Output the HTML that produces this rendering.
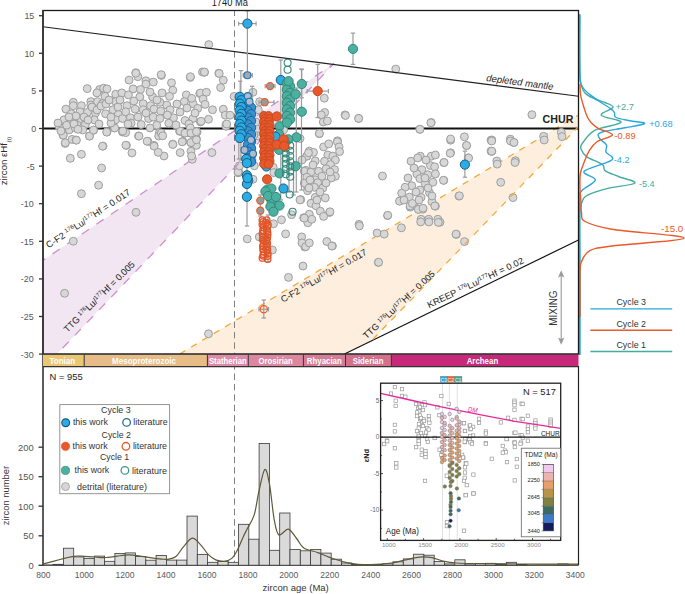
<!DOCTYPE html><html><head><meta charset="utf-8"><style>html,body{margin:0;padding:0;background:#fff;}svg{display:block;}</style></head><body>
<svg width="685" height="594" viewBox="0 0 685 594" font-family='"Liberation Sans", sans-serif'>
<rect width="685" height="594" fill="#fff"/>
<defs><clipPath id="cp"><rect x="43.0" y="10.0" width="535.5" height="344.0"/></clipPath></defs>
<g clip-path="url(#cp)">
<polygon points="43,260.4 334,63.5 57,354 43,354" fill="#f3e6f3"/>
<polygon points="179.7,354 578.9,114.7 578.9,126.1 372.9,339.3 345.3,354" fill="#fdeedd"/>
<line x1="43" y1="260.4" x2="334" y2="63.5" stroke="#cf8fcf" stroke-width="1.3" stroke-dasharray="8.8,8.8" stroke-dashoffset="6"/>
<line x1="179.7" y1="354" x2="578.9" y2="114.7" stroke="#f5a83a" stroke-width="1.3" stroke-dasharray="6.6,6.6"/>
</g>
<line x1="344.5" y1="354" x2="578.5" y2="240" stroke="#111" stroke-width="1.2"/>
<line x1="43" y1="128.5" x2="578.5" y2="128.5" stroke="#111" stroke-width="2.2"/>
<line x1="234.5" y1="10" x2="234.5" y2="565" stroke="#808080" stroke-width="1" stroke-dasharray="6.5,3.9" stroke-dashoffset="0.5"/>
<circle cx="87.2" cy="88.6" r="3.95" fill="#d7d7d7" stroke="#9e9e9e" stroke-width="1.00"/>
<circle cx="99.6" cy="89.5" r="3.95" fill="#d7d7d7" stroke="#9e9e9e" stroke-width="1.00"/>
<circle cx="103.6" cy="88.2" r="3.95" fill="#d7d7d7" stroke="#9e9e9e" stroke-width="1.00"/>
<circle cx="107.0" cy="88.9" r="3.95" fill="#d7d7d7" stroke="#9e9e9e" stroke-width="1.00"/>
<circle cx="96.9" cy="92.9" r="3.95" fill="#d7d7d7" stroke="#9e9e9e" stroke-width="1.00"/>
<circle cx="105.0" cy="96.3" r="3.95" fill="#d7d7d7" stroke="#9e9e9e" stroke-width="1.00"/>
<circle cx="115.7" cy="94.2" r="3.95" fill="#d7d7d7" stroke="#9e9e9e" stroke-width="1.00"/>
<circle cx="121.8" cy="92.9" r="3.95" fill="#d7d7d7" stroke="#9e9e9e" stroke-width="1.00"/>
<circle cx="73.3" cy="102.3" r="3.95" fill="#d7d7d7" stroke="#9e9e9e" stroke-width="1.00"/>
<circle cx="65.9" cy="109.1" r="3.95" fill="#d7d7d7" stroke="#9e9e9e" stroke-width="1.00"/>
<circle cx="73.3" cy="105.7" r="3.95" fill="#d7d7d7" stroke="#9e9e9e" stroke-width="1.00"/>
<circle cx="81.4" cy="105.7" r="3.95" fill="#d7d7d7" stroke="#9e9e9e" stroke-width="1.00"/>
<circle cx="90.8" cy="101.6" r="3.95" fill="#d7d7d7" stroke="#9e9e9e" stroke-width="1.00"/>
<circle cx="90.8" cy="105.0" r="3.95" fill="#d7d7d7" stroke="#9e9e9e" stroke-width="1.00"/>
<circle cx="97.5" cy="101.6" r="3.95" fill="#d7d7d7" stroke="#9e9e9e" stroke-width="1.00"/>
<circle cx="102.3" cy="103.7" r="3.95" fill="#d7d7d7" stroke="#9e9e9e" stroke-width="1.00"/>
<circle cx="115.7" cy="101.6" r="3.95" fill="#d7d7d7" stroke="#9e9e9e" stroke-width="1.00"/>
<circle cx="113.0" cy="109.7" r="3.95" fill="#d7d7d7" stroke="#9e9e9e" stroke-width="1.00"/>
<circle cx="71.3" cy="113.8" r="3.95" fill="#d7d7d7" stroke="#9e9e9e" stroke-width="1.00"/>
<circle cx="80.0" cy="111.8" r="3.95" fill="#d7d7d7" stroke="#9e9e9e" stroke-width="1.00"/>
<circle cx="87.4" cy="112.4" r="3.95" fill="#d7d7d7" stroke="#9e9e9e" stroke-width="1.00"/>
<circle cx="95.5" cy="113.1" r="3.95" fill="#d7d7d7" stroke="#9e9e9e" stroke-width="1.00"/>
<circle cx="105.6" cy="113.8" r="3.95" fill="#d7d7d7" stroke="#9e9e9e" stroke-width="1.00"/>
<circle cx="118.4" cy="114.4" r="3.95" fill="#d7d7d7" stroke="#9e9e9e" stroke-width="1.00"/>
<circle cx="63.9" cy="119.8" r="3.95" fill="#d7d7d7" stroke="#9e9e9e" stroke-width="1.00"/>
<circle cx="70.0" cy="121.9" r="3.95" fill="#d7d7d7" stroke="#9e9e9e" stroke-width="1.00"/>
<circle cx="77.3" cy="122.5" r="3.95" fill="#d7d7d7" stroke="#9e9e9e" stroke-width="1.00"/>
<circle cx="85.4" cy="124.5" r="3.95" fill="#d7d7d7" stroke="#9e9e9e" stroke-width="1.00"/>
<circle cx="94.2" cy="119.8" r="3.95" fill="#d7d7d7" stroke="#9e9e9e" stroke-width="1.00"/>
<circle cx="115.7" cy="119.8" r="3.95" fill="#d7d7d7" stroke="#9e9e9e" stroke-width="1.00"/>
<circle cx="122.5" cy="118.5" r="3.95" fill="#d7d7d7" stroke="#9e9e9e" stroke-width="1.00"/>
<circle cx="59.2" cy="126.6" r="3.95" fill="#d7d7d7" stroke="#9e9e9e" stroke-width="1.00"/>
<circle cx="69.3" cy="129.9" r="3.95" fill="#d7d7d7" stroke="#9e9e9e" stroke-width="1.00"/>
<circle cx="75.3" cy="127.9" r="3.95" fill="#d7d7d7" stroke="#9e9e9e" stroke-width="1.00"/>
<circle cx="82.7" cy="129.9" r="3.95" fill="#d7d7d7" stroke="#9e9e9e" stroke-width="1.00"/>
<circle cx="93.5" cy="130.3" r="3.95" fill="#d7d7d7" stroke="#9e9e9e" stroke-width="1.00"/>
<circle cx="107.0" cy="132.0" r="3.95" fill="#d7d7d7" stroke="#9e9e9e" stroke-width="1.00"/>
<circle cx="114.4" cy="127.9" r="3.95" fill="#d7d7d7" stroke="#9e9e9e" stroke-width="1.00"/>
<circle cx="122.5" cy="132.0" r="3.95" fill="#d7d7d7" stroke="#9e9e9e" stroke-width="1.00"/>
<circle cx="63.2" cy="135.3" r="3.95" fill="#d7d7d7" stroke="#9e9e9e" stroke-width="1.00"/>
<circle cx="72.0" cy="139.4" r="3.95" fill="#d7d7d7" stroke="#9e9e9e" stroke-width="1.00"/>
<circle cx="76.0" cy="140.0" r="3.95" fill="#d7d7d7" stroke="#9e9e9e" stroke-width="1.00"/>
<circle cx="89.5" cy="136.0" r="3.95" fill="#d7d7d7" stroke="#9e9e9e" stroke-width="1.00"/>
<circle cx="65.2" cy="143.4" r="3.95" fill="#d7d7d7" stroke="#9e9e9e" stroke-width="1.00"/>
<circle cx="103.0" cy="146.1" r="3.95" fill="#d7d7d7" stroke="#9e9e9e" stroke-width="1.00"/>
<circle cx="66.6" cy="125.2" r="3.95" fill="#d7d7d7" stroke="#9e9e9e" stroke-width="1.00"/>
<circle cx="74.0" cy="123.9" r="3.95" fill="#d7d7d7" stroke="#9e9e9e" stroke-width="1.00"/>
<circle cx="80.7" cy="118.5" r="3.95" fill="#d7d7d7" stroke="#9e9e9e" stroke-width="1.00"/>
<circle cx="78.0" cy="129.3" r="3.95" fill="#d7d7d7" stroke="#9e9e9e" stroke-width="1.00"/>
<circle cx="135.8" cy="72.7" r="3.95" fill="#d7d7d7" stroke="#9e9e9e" stroke-width="1.00"/>
<circle cx="137.8" cy="76.7" r="3.95" fill="#d7d7d7" stroke="#9e9e9e" stroke-width="1.00"/>
<circle cx="129.1" cy="80.1" r="3.95" fill="#d7d7d7" stroke="#9e9e9e" stroke-width="1.00"/>
<circle cx="145.9" cy="80.8" r="3.95" fill="#d7d7d7" stroke="#9e9e9e" stroke-width="1.00"/>
<circle cx="145.9" cy="84.1" r="3.95" fill="#d7d7d7" stroke="#9e9e9e" stroke-width="1.00"/>
<circle cx="153.3" cy="82.1" r="3.95" fill="#d7d7d7" stroke="#9e9e9e" stroke-width="1.00"/>
<circle cx="161.4" cy="75.4" r="3.95" fill="#d7d7d7" stroke="#9e9e9e" stroke-width="1.00"/>
<circle cx="171.5" cy="82.8" r="3.95" fill="#d7d7d7" stroke="#9e9e9e" stroke-width="1.00"/>
<circle cx="190.3" cy="77.4" r="3.95" fill="#d7d7d7" stroke="#9e9e9e" stroke-width="1.00"/>
<circle cx="202.5" cy="72.0" r="3.95" fill="#d7d7d7" stroke="#9e9e9e" stroke-width="1.00"/>
<circle cx="133.1" cy="88.9" r="3.95" fill="#d7d7d7" stroke="#9e9e9e" stroke-width="1.00"/>
<circle cx="140.5" cy="89.5" r="3.95" fill="#d7d7d7" stroke="#9e9e9e" stroke-width="1.00"/>
<circle cx="128.4" cy="94.9" r="3.95" fill="#d7d7d7" stroke="#9e9e9e" stroke-width="1.00"/>
<circle cx="139.8" cy="96.9" r="3.95" fill="#d7d7d7" stroke="#9e9e9e" stroke-width="1.00"/>
<circle cx="152.6" cy="96.9" r="3.95" fill="#d7d7d7" stroke="#9e9e9e" stroke-width="1.00"/>
<circle cx="162.1" cy="92.9" r="3.95" fill="#d7d7d7" stroke="#9e9e9e" stroke-width="1.00"/>
<circle cx="172.8" cy="90.2" r="3.95" fill="#d7d7d7" stroke="#9e9e9e" stroke-width="1.00"/>
<circle cx="169.5" cy="96.3" r="3.95" fill="#d7d7d7" stroke="#9e9e9e" stroke-width="1.00"/>
<circle cx="186.3" cy="94.9" r="3.95" fill="#d7d7d7" stroke="#9e9e9e" stroke-width="1.00"/>
<circle cx="184.3" cy="101.6" r="3.95" fill="#d7d7d7" stroke="#9e9e9e" stroke-width="1.00"/>
<circle cx="193.0" cy="103.7" r="3.95" fill="#d7d7d7" stroke="#9e9e9e" stroke-width="1.00"/>
<circle cx="199.8" cy="93.6" r="3.95" fill="#d7d7d7" stroke="#9e9e9e" stroke-width="1.00"/>
<circle cx="191.7" cy="98.3" r="3.95" fill="#d7d7d7" stroke="#9e9e9e" stroke-width="1.00"/>
<circle cx="127.0" cy="105.7" r="3.95" fill="#d7d7d7" stroke="#9e9e9e" stroke-width="1.00"/>
<circle cx="133.8" cy="101.0" r="3.95" fill="#d7d7d7" stroke="#9e9e9e" stroke-width="1.00"/>
<circle cx="143.2" cy="103.7" r="3.95" fill="#d7d7d7" stroke="#9e9e9e" stroke-width="1.00"/>
<circle cx="150.6" cy="105.7" r="3.95" fill="#d7d7d7" stroke="#9e9e9e" stroke-width="1.00"/>
<circle cx="160.0" cy="102.3" r="3.95" fill="#d7d7d7" stroke="#9e9e9e" stroke-width="1.00"/>
<circle cx="166.8" cy="105.0" r="3.95" fill="#d7d7d7" stroke="#9e9e9e" stroke-width="1.00"/>
<circle cx="135.1" cy="109.1" r="3.95" fill="#d7d7d7" stroke="#9e9e9e" stroke-width="1.00"/>
<circle cx="143.2" cy="109.7" r="3.95" fill="#d7d7d7" stroke="#9e9e9e" stroke-width="1.00"/>
<circle cx="154.0" cy="109.1" r="3.95" fill="#d7d7d7" stroke="#9e9e9e" stroke-width="1.00"/>
<circle cx="160.7" cy="111.1" r="3.95" fill="#d7d7d7" stroke="#9e9e9e" stroke-width="1.00"/>
<circle cx="170.1" cy="109.7" r="3.95" fill="#d7d7d7" stroke="#9e9e9e" stroke-width="1.00"/>
<circle cx="125.7" cy="111.8" r="3.95" fill="#d7d7d7" stroke="#9e9e9e" stroke-width="1.00"/>
<circle cx="197.7" cy="108.4" r="3.95" fill="#d7d7d7" stroke="#9e9e9e" stroke-width="1.00"/>
<circle cx="130.4" cy="117.8" r="3.95" fill="#d7d7d7" stroke="#9e9e9e" stroke-width="1.00"/>
<circle cx="148.6" cy="118.5" r="3.95" fill="#d7d7d7" stroke="#9e9e9e" stroke-width="1.00"/>
<circle cx="153.3" cy="117.1" r="3.95" fill="#d7d7d7" stroke="#9e9e9e" stroke-width="1.00"/>
<circle cx="160.0" cy="118.5" r="3.95" fill="#d7d7d7" stroke="#9e9e9e" stroke-width="1.00"/>
<circle cx="173.5" cy="117.8" r="3.95" fill="#d7d7d7" stroke="#9e9e9e" stroke-width="1.00"/>
<circle cx="167.4" cy="115.1" r="3.95" fill="#d7d7d7" stroke="#9e9e9e" stroke-width="1.00"/>
<circle cx="185.0" cy="120.5" r="3.95" fill="#d7d7d7" stroke="#9e9e9e" stroke-width="1.00"/>
<circle cx="193.0" cy="118.5" r="3.95" fill="#d7d7d7" stroke="#9e9e9e" stroke-width="1.00"/>
<circle cx="200.4" cy="121.9" r="3.95" fill="#d7d7d7" stroke="#9e9e9e" stroke-width="1.00"/>
<circle cx="131.1" cy="123.2" r="3.95" fill="#d7d7d7" stroke="#9e9e9e" stroke-width="1.00"/>
<circle cx="141.2" cy="124.5" r="3.95" fill="#d7d7d7" stroke="#9e9e9e" stroke-width="1.00"/>
<circle cx="156.7" cy="125.2" r="3.95" fill="#d7d7d7" stroke="#9e9e9e" stroke-width="1.00"/>
<circle cx="168.8" cy="123.2" r="3.95" fill="#d7d7d7" stroke="#9e9e9e" stroke-width="1.00"/>
<circle cx="189.0" cy="123.9" r="3.95" fill="#d7d7d7" stroke="#9e9e9e" stroke-width="1.00"/>
<circle cx="125.7" cy="132.6" r="3.95" fill="#d7d7d7" stroke="#9e9e9e" stroke-width="1.00"/>
<circle cx="138.5" cy="136.0" r="3.95" fill="#d7d7d7" stroke="#9e9e9e" stroke-width="1.00"/>
<circle cx="159.4" cy="132.6" r="3.95" fill="#d7d7d7" stroke="#9e9e9e" stroke-width="1.00"/>
<circle cx="158.7" cy="136.0" r="3.95" fill="#d7d7d7" stroke="#9e9e9e" stroke-width="1.00"/>
<circle cx="179.6" cy="131.3" r="3.95" fill="#d7d7d7" stroke="#9e9e9e" stroke-width="1.00"/>
<circle cx="184.3" cy="133.3" r="3.95" fill="#d7d7d7" stroke="#9e9e9e" stroke-width="1.00"/>
<circle cx="191.0" cy="133.3" r="3.95" fill="#d7d7d7" stroke="#9e9e9e" stroke-width="1.00"/>
<circle cx="197.1" cy="132.0" r="3.95" fill="#d7d7d7" stroke="#9e9e9e" stroke-width="1.00"/>
<circle cx="147.9" cy="141.4" r="3.95" fill="#d7d7d7" stroke="#9e9e9e" stroke-width="1.00"/>
<circle cx="154.0" cy="145.4" r="3.95" fill="#d7d7d7" stroke="#9e9e9e" stroke-width="1.00"/>
<circle cx="172.8" cy="144.1" r="3.95" fill="#d7d7d7" stroke="#9e9e9e" stroke-width="1.00"/>
<circle cx="182.9" cy="141.4" r="3.95" fill="#d7d7d7" stroke="#9e9e9e" stroke-width="1.00"/>
<circle cx="191.0" cy="142.7" r="3.95" fill="#d7d7d7" stroke="#9e9e9e" stroke-width="1.00"/>
<circle cx="126.4" cy="145.4" r="3.95" fill="#d7d7d7" stroke="#9e9e9e" stroke-width="1.00"/>
<circle cx="196.4" cy="138.7" r="3.95" fill="#d7d7d7" stroke="#9e9e9e" stroke-width="1.00"/>
<circle cx="196.4" cy="145.4" r="3.95" fill="#d7d7d7" stroke="#9e9e9e" stroke-width="1.00"/>
<circle cx="190.3" cy="127.9" r="3.95" fill="#d7d7d7" stroke="#9e9e9e" stroke-width="1.00"/>
<circle cx="208.8" cy="44.6" r="3.95" fill="#d7d7d7" stroke="#9e9e9e" stroke-width="1.00"/>
<circle cx="135.8" cy="73.2" r="3.95" fill="#d7d7d7" stroke="#9e9e9e" stroke-width="1.00"/>
<circle cx="161.2" cy="74.7" r="3.95" fill="#d7d7d7" stroke="#9e9e9e" stroke-width="1.00"/>
<circle cx="204.5" cy="72.3" r="3.95" fill="#d7d7d7" stroke="#9e9e9e" stroke-width="1.00"/>
<circle cx="218.8" cy="73.2" r="3.95" fill="#d7d7d7" stroke="#9e9e9e" stroke-width="1.00"/>
<circle cx="190.4" cy="76.7" r="3.95" fill="#d7d7d7" stroke="#9e9e9e" stroke-width="1.00"/>
<circle cx="204.4" cy="72.1" r="3.95" fill="#d7d7d7" stroke="#9e9e9e" stroke-width="1.00"/>
<circle cx="219.2" cy="73.5" r="3.95" fill="#d7d7d7" stroke="#9e9e9e" stroke-width="1.00"/>
<circle cx="223.3" cy="80.2" r="3.95" fill="#d7d7d7" stroke="#9e9e9e" stroke-width="1.00"/>
<circle cx="220.6" cy="87.6" r="3.95" fill="#d7d7d7" stroke="#9e9e9e" stroke-width="1.00"/>
<circle cx="200.4" cy="93.0" r="3.95" fill="#d7d7d7" stroke="#9e9e9e" stroke-width="1.00"/>
<circle cx="206.4" cy="92.3" r="3.95" fill="#d7d7d7" stroke="#9e9e9e" stroke-width="1.00"/>
<circle cx="203.1" cy="99.1" r="3.95" fill="#d7d7d7" stroke="#9e9e9e" stroke-width="1.00"/>
<circle cx="205.1" cy="104.4" r="3.95" fill="#d7d7d7" stroke="#9e9e9e" stroke-width="1.00"/>
<circle cx="212.5" cy="109.8" r="3.95" fill="#d7d7d7" stroke="#9e9e9e" stroke-width="1.00"/>
<circle cx="223.3" cy="109.2" r="3.95" fill="#d7d7d7" stroke="#9e9e9e" stroke-width="1.00"/>
<circle cx="225.3" cy="115.2" r="3.95" fill="#d7d7d7" stroke="#9e9e9e" stroke-width="1.00"/>
<circle cx="230.0" cy="115.2" r="3.95" fill="#d7d7d7" stroke="#9e9e9e" stroke-width="1.00"/>
<circle cx="208.5" cy="119.3" r="3.95" fill="#d7d7d7" stroke="#9e9e9e" stroke-width="1.00"/>
<circle cx="201.1" cy="121.3" r="3.95" fill="#d7d7d7" stroke="#9e9e9e" stroke-width="1.00"/>
<circle cx="226.0" cy="124.6" r="3.95" fill="#d7d7d7" stroke="#9e9e9e" stroke-width="1.00"/>
<circle cx="234.1" cy="96.4" r="3.95" fill="#d7d7d7" stroke="#9e9e9e" stroke-width="1.00"/>
<circle cx="252.9" cy="92.3" r="3.95" fill="#d7d7d7" stroke="#9e9e9e" stroke-width="1.00"/>
<circle cx="259.6" cy="101.8" r="3.95" fill="#d7d7d7" stroke="#9e9e9e" stroke-width="1.00"/>
<circle cx="258.3" cy="109.8" r="3.95" fill="#d7d7d7" stroke="#9e9e9e" stroke-width="1.00"/>
<circle cx="257.0" cy="128.7" r="3.95" fill="#d7d7d7" stroke="#9e9e9e" stroke-width="1.00"/>
<circle cx="306.8" cy="156.2" r="3.95" fill="#d7d7d7" stroke="#9e9e9e" stroke-width="1.00"/>
<circle cx="305.8" cy="170.3" r="3.95" fill="#d7d7d7" stroke="#9e9e9e" stroke-width="1.00"/>
<circle cx="304.8" cy="183.4" r="3.95" fill="#d7d7d7" stroke="#9e9e9e" stroke-width="1.00"/>
<circle cx="307.8" cy="188.5" r="3.95" fill="#d7d7d7" stroke="#9e9e9e" stroke-width="1.00"/>
<circle cx="300.7" cy="199.6" r="3.95" fill="#d7d7d7" stroke="#9e9e9e" stroke-width="1.00"/>
<circle cx="291.6" cy="214.7" r="3.95" fill="#d7d7d7" stroke="#9e9e9e" stroke-width="1.00"/>
<circle cx="281.5" cy="219.8" r="3.95" fill="#d7d7d7" stroke="#9e9e9e" stroke-width="1.00"/>
<circle cx="273.5" cy="223.8" r="3.95" fill="#d7d7d7" stroke="#9e9e9e" stroke-width="1.00"/>
<circle cx="285.6" cy="233.9" r="3.95" fill="#d7d7d7" stroke="#9e9e9e" stroke-width="1.00"/>
<circle cx="303.7" cy="217.7" r="3.95" fill="#d7d7d7" stroke="#9e9e9e" stroke-width="1.00"/>
<circle cx="301.7" cy="236.9" r="3.95" fill="#d7d7d7" stroke="#9e9e9e" stroke-width="1.00"/>
<circle cx="304.8" cy="247.0" r="3.95" fill="#d7d7d7" stroke="#9e9e9e" stroke-width="1.00"/>
<circle cx="247.2" cy="238.9" r="3.95" fill="#d7d7d7" stroke="#9e9e9e" stroke-width="1.00"/>
<circle cx="259.3" cy="236.9" r="3.95" fill="#d7d7d7" stroke="#9e9e9e" stroke-width="1.00"/>
<circle cx="272.4" cy="250.0" r="3.95" fill="#d7d7d7" stroke="#9e9e9e" stroke-width="1.00"/>
<circle cx="239.1" cy="172.3" r="3.95" fill="#d7d7d7" stroke="#9e9e9e" stroke-width="1.00"/>
<circle cx="307.8" cy="222.8" r="3.95" fill="#d7d7d7" stroke="#9e9e9e" stroke-width="1.00"/>
<circle cx="324.3" cy="98.2" r="3.95" fill="#d7d7d7" stroke="#9e9e9e" stroke-width="1.00"/>
<circle cx="324.7" cy="112.5" r="3.95" fill="#d7d7d7" stroke="#9e9e9e" stroke-width="1.00"/>
<circle cx="321.3" cy="114.9" r="3.95" fill="#d7d7d7" stroke="#9e9e9e" stroke-width="1.00"/>
<circle cx="323.3" cy="122.0" r="3.95" fill="#d7d7d7" stroke="#9e9e9e" stroke-width="1.00"/>
<circle cx="327.4" cy="121.0" r="3.95" fill="#d7d7d7" stroke="#9e9e9e" stroke-width="1.00"/>
<circle cx="345.0" cy="114.9" r="3.95" fill="#d7d7d7" stroke="#9e9e9e" stroke-width="1.00"/>
<circle cx="358.7" cy="118.4" r="3.95" fill="#d7d7d7" stroke="#9e9e9e" stroke-width="1.00"/>
<circle cx="319.3" cy="133.7" r="3.95" fill="#d7d7d7" stroke="#9e9e9e" stroke-width="1.00"/>
<circle cx="337.5" cy="140.8" r="3.95" fill="#d7d7d7" stroke="#9e9e9e" stroke-width="1.00"/>
<circle cx="319.4" cy="133.4" r="3.95" fill="#d7d7d7" stroke="#9e9e9e" stroke-width="1.00"/>
<circle cx="300.0" cy="138.5" r="3.95" fill="#d7d7d7" stroke="#9e9e9e" stroke-width="1.00"/>
<circle cx="323.6" cy="146.9" r="3.95" fill="#d7d7d7" stroke="#9e9e9e" stroke-width="1.00"/>
<circle cx="328.7" cy="143.9" r="3.95" fill="#d7d7d7" stroke="#9e9e9e" stroke-width="1.00"/>
<circle cx="337.4" cy="141.8" r="3.95" fill="#d7d7d7" stroke="#9e9e9e" stroke-width="1.00"/>
<circle cx="339.1" cy="146.9" r="3.95" fill="#d7d7d7" stroke="#9e9e9e" stroke-width="1.00"/>
<circle cx="339.6" cy="151.6" r="3.95" fill="#d7d7d7" stroke="#9e9e9e" stroke-width="1.00"/>
<circle cx="309.3" cy="151.1" r="3.95" fill="#d7d7d7" stroke="#9e9e9e" stroke-width="1.00"/>
<circle cx="313.5" cy="152.4" r="3.95" fill="#d7d7d7" stroke="#9e9e9e" stroke-width="1.00"/>
<circle cx="306.8" cy="156.1" r="3.95" fill="#d7d7d7" stroke="#9e9e9e" stroke-width="1.00"/>
<circle cx="327.8" cy="155.0" r="3.95" fill="#d7d7d7" stroke="#9e9e9e" stroke-width="1.00"/>
<circle cx="332.9" cy="156.1" r="3.95" fill="#d7d7d7" stroke="#9e9e9e" stroke-width="1.00"/>
<circle cx="335.4" cy="160.0" r="3.95" fill="#d7d7d7" stroke="#9e9e9e" stroke-width="1.00"/>
<circle cx="315.2" cy="160.9" r="3.95" fill="#d7d7d7" stroke="#9e9e9e" stroke-width="1.00"/>
<circle cx="324.5" cy="161.2" r="3.95" fill="#d7d7d7" stroke="#9e9e9e" stroke-width="1.00"/>
<circle cx="330.4" cy="164.6" r="3.95" fill="#d7d7d7" stroke="#9e9e9e" stroke-width="1.00"/>
<circle cx="304.3" cy="171.3" r="3.95" fill="#d7d7d7" stroke="#9e9e9e" stroke-width="1.00"/>
<circle cx="311.0" cy="172.1" r="3.95" fill="#d7d7d7" stroke="#9e9e9e" stroke-width="1.00"/>
<circle cx="318.6" cy="171.3" r="3.95" fill="#d7d7d7" stroke="#9e9e9e" stroke-width="1.00"/>
<circle cx="326.1" cy="168.8" r="3.95" fill="#d7d7d7" stroke="#9e9e9e" stroke-width="1.00"/>
<circle cx="334.6" cy="169.6" r="3.95" fill="#d7d7d7" stroke="#9e9e9e" stroke-width="1.00"/>
<circle cx="306.8" cy="177.2" r="3.95" fill="#d7d7d7" stroke="#9e9e9e" stroke-width="1.00"/>
<circle cx="321.9" cy="176.3" r="3.95" fill="#d7d7d7" stroke="#9e9e9e" stroke-width="1.00"/>
<circle cx="335.4" cy="176.3" r="3.95" fill="#d7d7d7" stroke="#9e9e9e" stroke-width="1.00"/>
<circle cx="331.2" cy="178.0" r="3.95" fill="#d7d7d7" stroke="#9e9e9e" stroke-width="1.00"/>
<circle cx="315.2" cy="179.7" r="3.95" fill="#d7d7d7" stroke="#9e9e9e" stroke-width="1.00"/>
<circle cx="304.3" cy="183.1" r="3.95" fill="#d7d7d7" stroke="#9e9e9e" stroke-width="1.00"/>
<circle cx="317.7" cy="182.7" r="3.95" fill="#d7d7d7" stroke="#9e9e9e" stroke-width="1.00"/>
<circle cx="322.8" cy="188.1" r="3.95" fill="#d7d7d7" stroke="#9e9e9e" stroke-width="1.00"/>
<circle cx="307.6" cy="190.7" r="3.95" fill="#d7d7d7" stroke="#9e9e9e" stroke-width="1.00"/>
<circle cx="314.4" cy="187.3" r="3.95" fill="#d7d7d7" stroke="#9e9e9e" stroke-width="1.00"/>
<circle cx="300.0" cy="199.9" r="3.95" fill="#d7d7d7" stroke="#9e9e9e" stroke-width="1.00"/>
<circle cx="315.2" cy="197.4" r="3.95" fill="#d7d7d7" stroke="#9e9e9e" stroke-width="1.00"/>
<circle cx="325.3" cy="197.9" r="3.95" fill="#d7d7d7" stroke="#9e9e9e" stroke-width="1.00"/>
<circle cx="311.0" cy="203.3" r="3.95" fill="#d7d7d7" stroke="#9e9e9e" stroke-width="1.00"/>
<circle cx="316.0" cy="205.8" r="3.95" fill="#d7d7d7" stroke="#9e9e9e" stroke-width="1.00"/>
<circle cx="320.3" cy="211.2" r="3.95" fill="#d7d7d7" stroke="#9e9e9e" stroke-width="1.00"/>
<circle cx="329.5" cy="212.5" r="3.95" fill="#d7d7d7" stroke="#9e9e9e" stroke-width="1.00"/>
<circle cx="323.6" cy="216.4" r="3.95" fill="#d7d7d7" stroke="#9e9e9e" stroke-width="1.00"/>
<circle cx="309.3" cy="214.2" r="3.95" fill="#d7d7d7" stroke="#9e9e9e" stroke-width="1.00"/>
<circle cx="304.3" cy="218.1" r="3.95" fill="#d7d7d7" stroke="#9e9e9e" stroke-width="1.00"/>
<circle cx="311.8" cy="219.3" r="3.95" fill="#d7d7d7" stroke="#9e9e9e" stroke-width="1.00"/>
<circle cx="382.5" cy="176.0" r="3.95" fill="#d7d7d7" stroke="#9e9e9e" stroke-width="1.00"/>
<circle cx="387.6" cy="215.6" r="3.95" fill="#d7d7d7" stroke="#9e9e9e" stroke-width="1.00"/>
<circle cx="359.0" cy="224.3" r="3.95" fill="#d7d7d7" stroke="#9e9e9e" stroke-width="1.00"/>
<circle cx="431.2" cy="122.5" r="3.95" fill="#d7d7d7" stroke="#9e9e9e" stroke-width="1.00"/>
<circle cx="419.9" cy="129.3" r="3.95" fill="#d7d7d7" stroke="#9e9e9e" stroke-width="1.00"/>
<circle cx="450.6" cy="140.2" r="3.95" fill="#d7d7d7" stroke="#9e9e9e" stroke-width="1.00"/>
<circle cx="464.4" cy="136.8" r="3.95" fill="#d7d7d7" stroke="#9e9e9e" stroke-width="1.00"/>
<circle cx="466.5" cy="145.6" r="3.95" fill="#d7d7d7" stroke="#9e9e9e" stroke-width="1.00"/>
<circle cx="491.0" cy="140.2" r="3.95" fill="#d7d7d7" stroke="#9e9e9e" stroke-width="1.00"/>
<circle cx="491.0" cy="151.1" r="3.95" fill="#d7d7d7" stroke="#9e9e9e" stroke-width="1.00"/>
<circle cx="450.6" cy="152.8" r="3.95" fill="#d7d7d7" stroke="#9e9e9e" stroke-width="1.00"/>
<circle cx="468.2" cy="157.9" r="3.95" fill="#d7d7d7" stroke="#9e9e9e" stroke-width="1.00"/>
<circle cx="411.0" cy="161.2" r="3.95" fill="#d7d7d7" stroke="#9e9e9e" stroke-width="1.00"/>
<circle cx="420.3" cy="156.2" r="3.95" fill="#d7d7d7" stroke="#9e9e9e" stroke-width="1.00"/>
<circle cx="417.7" cy="157.9" r="3.95" fill="#d7d7d7" stroke="#9e9e9e" stroke-width="1.00"/>
<circle cx="431.2" cy="156.2" r="3.95" fill="#d7d7d7" stroke="#9e9e9e" stroke-width="1.00"/>
<circle cx="435.4" cy="155.0" r="3.95" fill="#d7d7d7" stroke="#9e9e9e" stroke-width="1.00"/>
<circle cx="443.8" cy="162.6" r="3.95" fill="#d7d7d7" stroke="#9e9e9e" stroke-width="1.00"/>
<circle cx="430.4" cy="165.5" r="3.95" fill="#d7d7d7" stroke="#9e9e9e" stroke-width="1.00"/>
<circle cx="434.6" cy="166.8" r="3.95" fill="#d7d7d7" stroke="#9e9e9e" stroke-width="1.00"/>
<circle cx="421.9" cy="169.7" r="3.95" fill="#d7d7d7" stroke="#9e9e9e" stroke-width="1.00"/>
<circle cx="416.9" cy="173.9" r="3.95" fill="#d7d7d7" stroke="#9e9e9e" stroke-width="1.00"/>
<circle cx="427.8" cy="174.7" r="3.95" fill="#d7d7d7" stroke="#9e9e9e" stroke-width="1.00"/>
<circle cx="435.4" cy="173.9" r="3.95" fill="#d7d7d7" stroke="#9e9e9e" stroke-width="1.00"/>
<circle cx="419.9" cy="178.6" r="3.95" fill="#d7d7d7" stroke="#9e9e9e" stroke-width="1.00"/>
<circle cx="432.9" cy="182.3" r="3.95" fill="#d7d7d7" stroke="#9e9e9e" stroke-width="1.00"/>
<circle cx="425.3" cy="183.6" r="3.95" fill="#d7d7d7" stroke="#9e9e9e" stroke-width="1.00"/>
<circle cx="443.8" cy="180.3" r="3.95" fill="#d7d7d7" stroke="#9e9e9e" stroke-width="1.00"/>
<circle cx="411.8" cy="185.7" r="3.95" fill="#d7d7d7" stroke="#9e9e9e" stroke-width="1.00"/>
<circle cx="405.1" cy="187.3" r="3.95" fill="#d7d7d7" stroke="#9e9e9e" stroke-width="1.00"/>
<circle cx="401.7" cy="193.2" r="3.95" fill="#d7d7d7" stroke="#9e9e9e" stroke-width="1.00"/>
<circle cx="409.3" cy="197.1" r="3.95" fill="#d7d7d7" stroke="#9e9e9e" stroke-width="1.00"/>
<circle cx="421.1" cy="197.4" r="3.95" fill="#d7d7d7" stroke="#9e9e9e" stroke-width="1.00"/>
<circle cx="429.5" cy="192.7" r="3.95" fill="#d7d7d7" stroke="#9e9e9e" stroke-width="1.00"/>
<circle cx="400.0" cy="200.8" r="3.95" fill="#d7d7d7" stroke="#9e9e9e" stroke-width="1.00"/>
<circle cx="413.5" cy="205.0" r="3.95" fill="#d7d7d7" stroke="#9e9e9e" stroke-width="1.00"/>
<circle cx="410.2" cy="207.2" r="3.95" fill="#d7d7d7" stroke="#9e9e9e" stroke-width="1.00"/>
<circle cx="432.0" cy="201.6" r="3.95" fill="#d7d7d7" stroke="#9e9e9e" stroke-width="1.00"/>
<circle cx="435.4" cy="206.2" r="3.95" fill="#d7d7d7" stroke="#9e9e9e" stroke-width="1.00"/>
<circle cx="418.6" cy="209.2" r="3.95" fill="#d7d7d7" stroke="#9e9e9e" stroke-width="1.00"/>
<circle cx="422.8" cy="209.2" r="3.95" fill="#d7d7d7" stroke="#9e9e9e" stroke-width="1.00"/>
<circle cx="459.0" cy="196.1" r="3.95" fill="#d7d7d7" stroke="#9e9e9e" stroke-width="1.00"/>
<circle cx="421.1" cy="219.3" r="3.95" fill="#d7d7d7" stroke="#9e9e9e" stroke-width="1.00"/>
<circle cx="428.7" cy="219.3" r="3.95" fill="#d7d7d7" stroke="#9e9e9e" stroke-width="1.00"/>
<circle cx="437.9" cy="219.3" r="3.95" fill="#d7d7d7" stroke="#9e9e9e" stroke-width="1.00"/>
<circle cx="531.9" cy="114.7" r="3.95" fill="#d7d7d7" stroke="#9e9e9e" stroke-width="1.00"/>
<circle cx="491.8" cy="140.0" r="3.95" fill="#d7d7d7" stroke="#9e9e9e" stroke-width="1.00"/>
<circle cx="510.3" cy="139.1" r="3.95" fill="#d7d7d7" stroke="#9e9e9e" stroke-width="1.00"/>
<circle cx="513.7" cy="142.5" r="3.95" fill="#d7d7d7" stroke="#9e9e9e" stroke-width="1.00"/>
<circle cx="543.6" cy="136.3" r="3.95" fill="#d7d7d7" stroke="#9e9e9e" stroke-width="1.00"/>
<circle cx="561.3" cy="132.4" r="3.95" fill="#d7d7d7" stroke="#9e9e9e" stroke-width="1.00"/>
<circle cx="562.0" cy="136.6" r="3.95" fill="#d7d7d7" stroke="#9e9e9e" stroke-width="1.00"/>
<circle cx="491.8" cy="151.4" r="3.95" fill="#d7d7d7" stroke="#9e9e9e" stroke-width="1.00"/>
<circle cx="496.8" cy="161.0" r="3.95" fill="#d7d7d7" stroke="#9e9e9e" stroke-width="1.00"/>
<circle cx="515.4" cy="160.7" r="3.95" fill="#d7d7d7" stroke="#9e9e9e" stroke-width="1.00"/>
<circle cx="395.8" cy="69.1" r="3.95" fill="#d7d7d7" stroke="#9e9e9e" stroke-width="1.00"/>
<circle cx="345.5" cy="115.5" r="3.95" fill="#d7d7d7" stroke="#9e9e9e" stroke-width="1.00"/>
<circle cx="358.6" cy="118.4" r="3.95" fill="#d7d7d7" stroke="#9e9e9e" stroke-width="1.00"/>
<circle cx="430.9" cy="122.8" r="3.95" fill="#d7d7d7" stroke="#9e9e9e" stroke-width="1.00"/>
<circle cx="419.9" cy="129.3" r="3.95" fill="#d7d7d7" stroke="#9e9e9e" stroke-width="1.00"/>
<circle cx="450.6" cy="139.0" r="3.95" fill="#d7d7d7" stroke="#9e9e9e" stroke-width="1.00"/>
<circle cx="450.2" cy="153.3" r="3.95" fill="#d7d7d7" stroke="#9e9e9e" stroke-width="1.00"/>
<circle cx="444.1" cy="162.5" r="3.95" fill="#d7d7d7" stroke="#9e9e9e" stroke-width="1.00"/>
<circle cx="466.6" cy="145.5" r="3.95" fill="#d7d7d7" stroke="#9e9e9e" stroke-width="1.00"/>
<circle cx="468.6" cy="158.0" r="3.95" fill="#d7d7d7" stroke="#9e9e9e" stroke-width="1.00"/>
<circle cx="491.7" cy="141.0" r="3.95" fill="#d7d7d7" stroke="#9e9e9e" stroke-width="1.00"/>
<circle cx="491.7" cy="151.2" r="3.95" fill="#d7d7d7" stroke="#9e9e9e" stroke-width="1.00"/>
<circle cx="510.5" cy="141.0" r="3.95" fill="#d7d7d7" stroke="#9e9e9e" stroke-width="1.00"/>
<circle cx="514.0" cy="142.5" r="3.95" fill="#d7d7d7" stroke="#9e9e9e" stroke-width="1.00"/>
<circle cx="497.2" cy="164.1" r="3.95" fill="#d7d7d7" stroke="#9e9e9e" stroke-width="1.00"/>
<circle cx="515.0" cy="162.5" r="3.95" fill="#d7d7d7" stroke="#9e9e9e" stroke-width="1.00"/>
<circle cx="443.5" cy="180.3" r="3.95" fill="#d7d7d7" stroke="#9e9e9e" stroke-width="1.00"/>
<circle cx="500.7" cy="182.3" r="3.95" fill="#d7d7d7" stroke="#9e9e9e" stroke-width="1.00"/>
<circle cx="459.4" cy="195.8" r="3.95" fill="#d7d7d7" stroke="#9e9e9e" stroke-width="1.00"/>
<circle cx="513.0" cy="197.6" r="3.95" fill="#d7d7d7" stroke="#9e9e9e" stroke-width="1.00"/>
<circle cx="440.0" cy="222.2" r="3.95" fill="#d7d7d7" stroke="#9e9e9e" stroke-width="1.00"/>
<circle cx="456.3" cy="234.4" r="3.95" fill="#d7d7d7" stroke="#9e9e9e" stroke-width="1.00"/>
<circle cx="464.5" cy="241.6" r="3.95" fill="#d7d7d7" stroke="#9e9e9e" stroke-width="1.00"/>
<circle cx="544.2" cy="140.0" r="3.95" fill="#d7d7d7" stroke="#9e9e9e" stroke-width="1.00"/>
<circle cx="330.0" cy="211.8" r="3.95" fill="#d7d7d7" stroke="#9e9e9e" stroke-width="1.00"/>
<circle cx="387.7" cy="215.3" r="3.95" fill="#d7d7d7" stroke="#9e9e9e" stroke-width="1.00"/>
<circle cx="359.4" cy="225.9" r="3.95" fill="#d7d7d7" stroke="#9e9e9e" stroke-width="1.00"/>
<circle cx="377.1" cy="233.0" r="3.95" fill="#d7d7d7" stroke="#9e9e9e" stroke-width="1.00"/>
<circle cx="384.2" cy="234.1" r="3.95" fill="#d7d7d7" stroke="#9e9e9e" stroke-width="1.00"/>
<circle cx="401.4" cy="227.8" r="3.95" fill="#d7d7d7" stroke="#9e9e9e" stroke-width="1.00"/>
<circle cx="420.7" cy="221.9" r="3.95" fill="#d7d7d7" stroke="#9e9e9e" stroke-width="1.00"/>
<circle cx="428.9" cy="221.9" r="3.95" fill="#d7d7d7" stroke="#9e9e9e" stroke-width="1.00"/>
<circle cx="438.3" cy="222.4" r="3.95" fill="#d7d7d7" stroke="#9e9e9e" stroke-width="1.00"/>
<circle cx="456.0" cy="234.1" r="3.95" fill="#d7d7d7" stroke="#9e9e9e" stroke-width="1.00"/>
<circle cx="378.3" cy="262.4" r="3.95" fill="#d7d7d7" stroke="#9e9e9e" stroke-width="1.00"/>
<circle cx="332.4" cy="245.9" r="3.95" fill="#d7d7d7" stroke="#9e9e9e" stroke-width="1.00"/>
<circle cx="399.5" cy="201.2" r="3.95" fill="#d7d7d7" stroke="#9e9e9e" stroke-width="1.00"/>
<circle cx="410.1" cy="205.9" r="3.95" fill="#d7d7d7" stroke="#9e9e9e" stroke-width="1.00"/>
<circle cx="418.3" cy="209.4" r="3.95" fill="#d7d7d7" stroke="#9e9e9e" stroke-width="1.00"/>
<circle cx="423.0" cy="208.2" r="3.95" fill="#d7d7d7" stroke="#9e9e9e" stroke-width="1.00"/>
<circle cx="434.8" cy="205.9" r="3.95" fill="#d7d7d7" stroke="#9e9e9e" stroke-width="1.00"/>
<circle cx="412.4" cy="203.5" r="3.95" fill="#d7d7d7" stroke="#9e9e9e" stroke-width="1.00"/>
<circle cx="161.3" cy="133.1" r="3.95" fill="#d7d7d7" stroke="#9e9e9e" stroke-width="1.00"/>
<circle cx="162.7" cy="135.8" r="3.95" fill="#d7d7d7" stroke="#9e9e9e" stroke-width="1.00"/>
<circle cx="172.8" cy="144.5" r="3.95" fill="#d7d7d7" stroke="#9e9e9e" stroke-width="1.00"/>
<circle cx="180.2" cy="131.1" r="3.95" fill="#d7d7d7" stroke="#9e9e9e" stroke-width="1.00"/>
<circle cx="184.9" cy="133.1" r="3.95" fill="#d7d7d7" stroke="#9e9e9e" stroke-width="1.00"/>
<circle cx="191.0" cy="133.1" r="3.95" fill="#d7d7d7" stroke="#9e9e9e" stroke-width="1.00"/>
<circle cx="196.4" cy="131.7" r="3.95" fill="#d7d7d7" stroke="#9e9e9e" stroke-width="1.00"/>
<circle cx="182.2" cy="141.8" r="3.95" fill="#d7d7d7" stroke="#9e9e9e" stroke-width="1.00"/>
<circle cx="191.0" cy="142.5" r="3.95" fill="#d7d7d7" stroke="#9e9e9e" stroke-width="1.00"/>
<circle cx="196.4" cy="139.8" r="3.95" fill="#d7d7d7" stroke="#9e9e9e" stroke-width="1.00"/>
<circle cx="180.2" cy="152.6" r="3.95" fill="#d7d7d7" stroke="#9e9e9e" stroke-width="1.00"/>
<circle cx="191.0" cy="151.3" r="3.95" fill="#d7d7d7" stroke="#9e9e9e" stroke-width="1.00"/>
<circle cx="192.3" cy="159.3" r="3.95" fill="#d7d7d7" stroke="#9e9e9e" stroke-width="1.00"/>
<circle cx="191.6" cy="156.0" r="3.95" fill="#d7d7d7" stroke="#9e9e9e" stroke-width="1.00"/>
<circle cx="164.0" cy="156.0" r="3.95" fill="#d7d7d7" stroke="#9e9e9e" stroke-width="1.00"/>
<circle cx="211.9" cy="152.6" r="3.95" fill="#d7d7d7" stroke="#9e9e9e" stroke-width="1.00"/>
<circle cx="238.1" cy="172.8" r="3.95" fill="#d7d7d7" stroke="#9e9e9e" stroke-width="1.00"/>
<circle cx="226.0" cy="126.3" r="3.95" fill="#d7d7d7" stroke="#9e9e9e" stroke-width="1.00"/>
<circle cx="63.2" cy="135.1" r="3.95" fill="#d7d7d7" stroke="#9e9e9e" stroke-width="1.00"/>
<circle cx="65.3" cy="142.8" r="3.95" fill="#d7d7d7" stroke="#9e9e9e" stroke-width="1.00"/>
<circle cx="76.4" cy="140.2" r="3.95" fill="#d7d7d7" stroke="#9e9e9e" stroke-width="1.00"/>
<circle cx="70.3" cy="158.3" r="3.95" fill="#d7d7d7" stroke="#9e9e9e" stroke-width="1.00"/>
<circle cx="81.4" cy="154.3" r="3.95" fill="#d7d7d7" stroke="#9e9e9e" stroke-width="1.00"/>
<circle cx="89.5" cy="136.1" r="3.95" fill="#d7d7d7" stroke="#9e9e9e" stroke-width="1.00"/>
<circle cx="102.6" cy="146.2" r="3.95" fill="#d7d7d7" stroke="#9e9e9e" stroke-width="1.00"/>
<circle cx="101.6" cy="168.0" r="3.95" fill="#d7d7d7" stroke="#9e9e9e" stroke-width="1.00"/>
<circle cx="98.6" cy="185.2" r="3.95" fill="#d7d7d7" stroke="#9e9e9e" stroke-width="1.00"/>
<circle cx="81.4" cy="193.7" r="3.95" fill="#d7d7d7" stroke="#9e9e9e" stroke-width="1.00"/>
<circle cx="125.9" cy="145.2" r="3.95" fill="#d7d7d7" stroke="#9e9e9e" stroke-width="1.00"/>
<circle cx="131.9" cy="152.9" r="3.95" fill="#d7d7d7" stroke="#9e9e9e" stroke-width="1.00"/>
<circle cx="139.0" cy="136.1" r="3.95" fill="#d7d7d7" stroke="#9e9e9e" stroke-width="1.00"/>
<circle cx="147.1" cy="141.2" r="3.95" fill="#d7d7d7" stroke="#9e9e9e" stroke-width="1.00"/>
<circle cx="154.1" cy="146.2" r="3.95" fill="#d7d7d7" stroke="#9e9e9e" stroke-width="1.00"/>
<circle cx="158.2" cy="152.3" r="3.95" fill="#d7d7d7" stroke="#9e9e9e" stroke-width="1.00"/>
<circle cx="136.0" cy="212.3" r="3.95" fill="#d7d7d7" stroke="#9e9e9e" stroke-width="1.00"/>
<circle cx="73.3" cy="241.2" r="3.95" fill="#d7d7d7" stroke="#9e9e9e" stroke-width="1.00"/>
<circle cx="64.6" cy="293.3" r="3.95" fill="#d7d7d7" stroke="#9e9e9e" stroke-width="1.00"/>
<circle cx="106.7" cy="132.1" r="3.95" fill="#d7d7d7" stroke="#9e9e9e" stroke-width="1.00"/>
<circle cx="122.8" cy="131.1" r="3.95" fill="#d7d7d7" stroke="#9e9e9e" stroke-width="1.00"/>
<circle cx="93.5" cy="130.1" r="3.95" fill="#d7d7d7" stroke="#9e9e9e" stroke-width="1.00"/>
<circle cx="114.7" cy="128.0" r="3.95" fill="#d7d7d7" stroke="#9e9e9e" stroke-width="1.00"/>
<circle cx="238.1" cy="171.9" r="3.95" fill="#d7d7d7" stroke="#9e9e9e" stroke-width="1.00"/>
<circle cx="239.5" cy="165.8" r="3.95" fill="#d7d7d7" stroke="#9e9e9e" stroke-width="1.00"/>
<circle cx="254.3" cy="165.8" r="3.95" fill="#d7d7d7" stroke="#9e9e9e" stroke-width="1.00"/>
<circle cx="253.0" cy="179.3" r="3.95" fill="#d7d7d7" stroke="#9e9e9e" stroke-width="1.00"/>
<circle cx="273.2" cy="167.2" r="3.95" fill="#d7d7d7" stroke="#9e9e9e" stroke-width="1.00"/>
<circle cx="273.8" cy="172.6" r="3.95" fill="#d7d7d7" stroke="#9e9e9e" stroke-width="1.00"/>
<circle cx="258.3" cy="136.2" r="3.95" fill="#d7d7d7" stroke="#9e9e9e" stroke-width="1.00"/>
<circle cx="226.7" cy="124.0" r="3.95" fill="#d7d7d7" stroke="#9e9e9e" stroke-width="1.00"/>
<circle cx="283.6" cy="129.9" r="3.95" fill="#d7d7d7" stroke="#9e9e9e" stroke-width="1.00"/>
<circle cx="308.5" cy="152.8" r="3.95" fill="#d7d7d7" stroke="#9e9e9e" stroke-width="1.00"/>
<circle cx="208.5" cy="333.8" r="3.95" fill="#d7d7d7" stroke="#9e9e9e" stroke-width="1.00"/>
<circle cx="288.5" cy="277.4" r="3.95" fill="#d7d7d7" stroke="#9e9e9e" stroke-width="1.00"/>
<circle cx="302.0" cy="242.9" r="3.95" fill="#d7d7d7" stroke="#9e9e9e" stroke-width="1.00"/>
<circle cx="305.7" cy="246.6" r="3.95" fill="#d7d7d7" stroke="#9e9e9e" stroke-width="1.00"/>
<circle cx="309.3" cy="242.9" r="3.95" fill="#d7d7d7" stroke="#9e9e9e" stroke-width="1.00"/>
<circle cx="326.8" cy="241.5" r="3.95" fill="#d7d7d7" stroke="#9e9e9e" stroke-width="1.00"/>
<circle cx="331.9" cy="246.1" r="3.95" fill="#d7d7d7" stroke="#9e9e9e" stroke-width="1.00"/>
<circle cx="303.0" cy="266.0" r="3.95" fill="#d7d7d7" stroke="#9e9e9e" stroke-width="1.00"/>
<circle cx="378.6" cy="262.3" r="3.95" fill="#d7d7d7" stroke="#9e9e9e" stroke-width="1.00"/>
<circle cx="92.0" cy="107.0" r="3.95" fill="#d7d7d7" stroke="#9e9e9e" stroke-width="1.00"/>
<circle cx="97.0" cy="110.0" r="3.95" fill="#d7d7d7" stroke="#9e9e9e" stroke-width="1.00"/>
<circle cx="84.0" cy="117.0" r="3.95" fill="#d7d7d7" stroke="#9e9e9e" stroke-width="1.00"/>
<circle cx="88.0" cy="120.0" r="3.95" fill="#d7d7d7" stroke="#9e9e9e" stroke-width="1.00"/>
<circle cx="101.0" cy="106.0" r="3.95" fill="#d7d7d7" stroke="#9e9e9e" stroke-width="1.00"/>
<circle cx="106.0" cy="104.0" r="3.95" fill="#d7d7d7" stroke="#9e9e9e" stroke-width="1.00"/>
<circle cx="76.0" cy="116.0" r="3.95" fill="#d7d7d7" stroke="#9e9e9e" stroke-width="1.00"/>
<circle cx="69.0" cy="117.0" r="3.95" fill="#d7d7d7" stroke="#9e9e9e" stroke-width="1.00"/>
<circle cx="58.0" cy="123.0" r="3.95" fill="#d7d7d7" stroke="#9e9e9e" stroke-width="1.00"/>
<circle cx="61.0" cy="131.0" r="3.95" fill="#d7d7d7" stroke="#9e9e9e" stroke-width="1.00"/>
<circle cx="99.0" cy="124.0" r="3.95" fill="#d7d7d7" stroke="#9e9e9e" stroke-width="1.00"/>
<circle cx="111.0" cy="123.0" r="3.95" fill="#d7d7d7" stroke="#9e9e9e" stroke-width="1.00"/>
<circle cx="111.0" cy="117.0" r="3.95" fill="#d7d7d7" stroke="#9e9e9e" stroke-width="1.00"/>
<circle cx="118.0" cy="107.0" r="3.95" fill="#d7d7d7" stroke="#9e9e9e" stroke-width="1.00"/>
<circle cx="109.0" cy="100.0" r="3.95" fill="#d7d7d7" stroke="#9e9e9e" stroke-width="1.00"/>
<circle cx="150.0" cy="92.0" r="3.95" fill="#d7d7d7" stroke="#9e9e9e" stroke-width="1.00"/>
<circle cx="157.0" cy="100.0" r="3.95" fill="#d7d7d7" stroke="#9e9e9e" stroke-width="1.00"/>
<circle cx="177.0" cy="104.0" r="3.95" fill="#d7d7d7" stroke="#9e9e9e" stroke-width="1.00"/>
<circle cx="180.0" cy="112.0" r="3.95" fill="#d7d7d7" stroke="#9e9e9e" stroke-width="1.00"/>
<circle cx="146.0" cy="113.0" r="3.95" fill="#d7d7d7" stroke="#9e9e9e" stroke-width="1.00"/>
<circle cx="138.0" cy="117.0" r="3.95" fill="#d7d7d7" stroke="#9e9e9e" stroke-width="1.00"/>
<circle cx="176.0" cy="125.0" r="3.95" fill="#d7d7d7" stroke="#9e9e9e" stroke-width="1.00"/>
<circle cx="150.0" cy="128.0" r="3.95" fill="#d7d7d7" stroke="#9e9e9e" stroke-width="1.00"/>
<circle cx="120.0" cy="100.0" r="3.95" fill="#d7d7d7" stroke="#9e9e9e" stroke-width="1.00"/>
<circle cx="128.0" cy="124.0" r="3.95" fill="#d7d7d7" stroke="#9e9e9e" stroke-width="1.00"/>
<circle cx="195.0" cy="113.0" r="3.95" fill="#d7d7d7" stroke="#9e9e9e" stroke-width="1.00"/>
<circle cx="187.0" cy="108.0" r="3.95" fill="#d7d7d7" stroke="#9e9e9e" stroke-width="1.00"/>
<circle cx="310.0" cy="180.0" r="3.95" fill="#d7d7d7" stroke="#9e9e9e" stroke-width="1.00"/>
<circle cx="313.0" cy="165.0" r="3.95" fill="#d7d7d7" stroke="#9e9e9e" stroke-width="1.00"/>
<circle cx="320.0" cy="192.0" r="3.95" fill="#d7d7d7" stroke="#9e9e9e" stroke-width="1.00"/>
<circle cx="326.0" cy="183.0" r="3.95" fill="#d7d7d7" stroke="#9e9e9e" stroke-width="1.00"/>
<circle cx="317.0" cy="200.0" r="3.95" fill="#d7d7d7" stroke="#9e9e9e" stroke-width="1.00"/>
<circle cx="309.0" cy="188.0" r="3.95" fill="#d7d7d7" stroke="#9e9e9e" stroke-width="1.00"/>
<circle cx="302.0" cy="160.0" r="3.95" fill="#d7d7d7" stroke="#9e9e9e" stroke-width="1.00"/>
<circle cx="330.0" cy="172.0" r="3.95" fill="#d7d7d7" stroke="#9e9e9e" stroke-width="1.00"/>
<circle cx="420.0" cy="190.0" r="3.95" fill="#d7d7d7" stroke="#9e9e9e" stroke-width="1.00"/>
<circle cx="425.0" cy="178.0" r="3.95" fill="#d7d7d7" stroke="#9e9e9e" stroke-width="1.00"/>
<circle cx="416.0" cy="192.0" r="3.95" fill="#d7d7d7" stroke="#9e9e9e" stroke-width="1.00"/>
<circle cx="428.0" cy="188.0" r="3.95" fill="#d7d7d7" stroke="#9e9e9e" stroke-width="1.00"/>
<circle cx="408.0" cy="178.0" r="3.95" fill="#d7d7d7" stroke="#9e9e9e" stroke-width="1.00"/>
<circle cx="414.0" cy="168.0" r="3.95" fill="#d7d7d7" stroke="#9e9e9e" stroke-width="1.00"/>
<circle cx="426.0" cy="160.0" r="3.95" fill="#d7d7d7" stroke="#9e9e9e" stroke-width="1.00"/>
<circle cx="432.0" cy="196.0" r="3.95" fill="#d7d7d7" stroke="#9e9e9e" stroke-width="1.00"/>
<circle cx="404.0" cy="200.0" r="3.95" fill="#d7d7d7" stroke="#9e9e9e" stroke-width="1.00"/>
<circle cx="419.0" cy="200.0" r="3.95" fill="#d7d7d7" stroke="#9e9e9e" stroke-width="1.00"/>
<g clip-path="url(#cp)"><line x1="57" y1="354" x2="334" y2="63.5" stroke="#cf8fcf" stroke-width="1.3" stroke-dasharray="8.8,8.8" stroke-dashoffset="9.4"/><line x1="372.9" y1="339.3" x2="578.9" y2="126.1" stroke="#f5a83a" stroke-width="1.3" stroke-dasharray="6.6,6.6"/></g>
<line x1="43" y1="26.7" x2="578.5" y2="96.3" stroke="#222" stroke-width="1.1"/>
<line x1="247.4" y1="11.0" x2="247.4" y2="75.0" stroke="#9c9c9c" stroke-width="1.2"/><line x1="245.2" y1="11.0" x2="249.6" y2="11.0" stroke="#9c9c9c" stroke-width="1.2"/><line x1="245.2" y1="75.0" x2="249.6" y2="75.0" stroke="#9c9c9c" stroke-width="1.2"/>
<line x1="238.6" y1="23.6" x2="256.1" y2="23.6" stroke="#9c9c9c" stroke-width="1.2"/><line x1="238.6" y1="21.4" x2="238.6" y2="25.8" stroke="#9c9c9c" stroke-width="1.2"/><line x1="256.1" y1="21.4" x2="256.1" y2="25.8" stroke="#9c9c9c" stroke-width="1.2"/>
<line x1="243.2" y1="75.2" x2="252.3" y2="75.2" stroke="#9c9c9c" stroke-width="1.2"/><line x1="243.2" y1="73.0" x2="243.2" y2="77.4" stroke="#9c9c9c" stroke-width="1.2"/><line x1="252.3" y1="73.0" x2="252.3" y2="77.4" stroke="#9c9c9c" stroke-width="1.2"/>
<line x1="240.9" y1="70.6" x2="240.9" y2="160.0" stroke="#9c9c9c" stroke-width="1.2"/><line x1="238.7" y1="70.6" x2="243.1" y2="70.6" stroke="#9c9c9c" stroke-width="1.2"/><line x1="238.7" y1="160.0" x2="243.1" y2="160.0" stroke="#9c9c9c" stroke-width="1.2"/>
<line x1="240.2" y1="81.2" x2="240.2" y2="140.0" stroke="#9c9c9c" stroke-width="1.2"/><line x1="238.0" y1="81.2" x2="242.4" y2="81.2" stroke="#9c9c9c" stroke-width="1.2"/><line x1="238.0" y1="140.0" x2="242.4" y2="140.0" stroke="#9c9c9c" stroke-width="1.2"/>
<line x1="252.2" y1="86.3" x2="252.2" y2="150.0" stroke="#9c9c9c" stroke-width="1.2"/><line x1="250.0" y1="86.3" x2="254.4" y2="86.3" stroke="#9c9c9c" stroke-width="1.2"/><line x1="250.0" y1="150.0" x2="254.4" y2="150.0" stroke="#9c9c9c" stroke-width="1.2"/>
<line x1="265.2" y1="86.1" x2="275.0" y2="86.1" stroke="#9c9c9c" stroke-width="1.2"/><line x1="265.2" y1="83.9" x2="265.2" y2="88.3" stroke="#9c9c9c" stroke-width="1.2"/><line x1="275.0" y1="83.9" x2="275.0" y2="88.3" stroke="#9c9c9c" stroke-width="1.2"/>
<line x1="259.0" y1="102.3" x2="274.0" y2="102.3" stroke="#9c9c9c" stroke-width="1.2"/><line x1="259.0" y1="100.1" x2="259.0" y2="104.5" stroke="#9c9c9c" stroke-width="1.2"/><line x1="274.0" y1="100.1" x2="274.0" y2="104.5" stroke="#9c9c9c" stroke-width="1.2"/>
<line x1="280.8" y1="60.0" x2="280.8" y2="200.0" stroke="#9c9c9c" stroke-width="1.2"/><line x1="278.6" y1="60.0" x2="283.0" y2="60.0" stroke="#9c9c9c" stroke-width="1.2"/><line x1="278.6" y1="200.0" x2="283.0" y2="200.0" stroke="#9c9c9c" stroke-width="1.2"/>
<line x1="301.5" y1="69.0" x2="301.5" y2="190.0" stroke="#9c9c9c" stroke-width="1.2"/><line x1="299.3" y1="69.0" x2="303.7" y2="69.0" stroke="#9c9c9c" stroke-width="1.2"/><line x1="299.3" y1="190.0" x2="303.7" y2="190.0" stroke="#9c9c9c" stroke-width="1.2"/>
<line x1="282.9" y1="79.0" x2="282.9" y2="170.0" stroke="#9c9c9c" stroke-width="1.2"/><line x1="280.7" y1="79.0" x2="285.1" y2="79.0" stroke="#9c9c9c" stroke-width="1.2"/><line x1="280.7" y1="170.0" x2="285.1" y2="170.0" stroke="#9c9c9c" stroke-width="1.2"/>
<line x1="296.3" y1="88.0" x2="296.3" y2="192.0" stroke="#9c9c9c" stroke-width="1.2"/><line x1="294.1" y1="88.0" x2="298.5" y2="88.0" stroke="#9c9c9c" stroke-width="1.2"/><line x1="294.1" y1="192.0" x2="298.5" y2="192.0" stroke="#9c9c9c" stroke-width="1.2"/>
<line x1="353.0" y1="33.1" x2="353.0" y2="64.4" stroke="#9c9c9c" stroke-width="1.2"/><line x1="350.8" y1="33.1" x2="355.2" y2="33.1" stroke="#9c9c9c" stroke-width="1.2"/><line x1="350.8" y1="64.4" x2="355.2" y2="64.4" stroke="#9c9c9c" stroke-width="1.2"/>
<line x1="317.7" y1="64.4" x2="317.7" y2="117.6" stroke="#9c9c9c" stroke-width="1.2"/><line x1="315.5" y1="64.4" x2="319.9" y2="64.4" stroke="#9c9c9c" stroke-width="1.2"/><line x1="315.5" y1="117.6" x2="319.9" y2="117.6" stroke="#9c9c9c" stroke-width="1.2"/>
<line x1="307.2" y1="91.1" x2="328.4" y2="91.1" stroke="#9c9c9c" stroke-width="1.2"/><line x1="307.2" y1="88.9" x2="307.2" y2="93.3" stroke="#9c9c9c" stroke-width="1.2"/><line x1="328.4" y1="88.9" x2="328.4" y2="93.3" stroke="#9c9c9c" stroke-width="1.2"/>
<line x1="301.7" y1="69.5" x2="301.7" y2="97.8" stroke="#9c9c9c" stroke-width="1.2"/><line x1="299.5" y1="69.5" x2="303.9" y2="69.5" stroke="#9c9c9c" stroke-width="1.2"/><line x1="299.5" y1="97.8" x2="303.9" y2="97.8" stroke="#9c9c9c" stroke-width="1.2"/>
<line x1="464.9" y1="151.1" x2="464.9" y2="177.2" stroke="#9c9c9c" stroke-width="1.2"/><line x1="462.7" y1="151.1" x2="467.1" y2="151.1" stroke="#9c9c9c" stroke-width="1.2"/><line x1="462.7" y1="177.2" x2="467.1" y2="177.2" stroke="#9c9c9c" stroke-width="1.2"/>
<line x1="238.8" y1="142.0" x2="238.8" y2="159.0" stroke="#9c9c9c" stroke-width="1.2"/><line x1="236.6" y1="142.0" x2="241.0" y2="142.0" stroke="#9c9c9c" stroke-width="1.2"/><line x1="236.6" y1="159.0" x2="241.0" y2="159.0" stroke="#9c9c9c" stroke-width="1.2"/>
<line x1="247.0" y1="160.0" x2="247.0" y2="226.0" stroke="#9c9c9c" stroke-width="1.2"/><line x1="244.8" y1="160.0" x2="249.2" y2="160.0" stroke="#9c9c9c" stroke-width="1.2"/><line x1="244.8" y1="226.0" x2="249.2" y2="226.0" stroke="#9c9c9c" stroke-width="1.2"/>
<line x1="260.3" y1="195.0" x2="260.3" y2="216.0" stroke="#9c9c9c" stroke-width="1.2"/><line x1="258.1" y1="195.0" x2="262.5" y2="195.0" stroke="#9c9c9c" stroke-width="1.2"/><line x1="258.1" y1="216.0" x2="262.5" y2="216.0" stroke="#9c9c9c" stroke-width="1.2"/>
<line x1="263.8" y1="300.0" x2="263.8" y2="318.0" stroke="#9c9c9c" stroke-width="1.2"/><line x1="261.6" y1="300.0" x2="266.0" y2="300.0" stroke="#9c9c9c" stroke-width="1.2"/><line x1="261.6" y1="318.0" x2="266.0" y2="318.0" stroke="#9c9c9c" stroke-width="1.2"/>
<line x1="259.0" y1="309.2" x2="268.5" y2="309.2" stroke="#9c9c9c" stroke-width="1.2"/><line x1="259.0" y1="307.0" x2="259.0" y2="311.4" stroke="#9c9c9c" stroke-width="1.2"/><line x1="268.5" y1="307.0" x2="268.5" y2="311.4" stroke="#9c9c9c" stroke-width="1.2"/>
<line x1="268.0" y1="215.0" x2="268.0" y2="262.0" stroke="#9c9c9c" stroke-width="1.2"/><line x1="265.8" y1="215.0" x2="270.2" y2="215.0" stroke="#9c9c9c" stroke-width="1.2"/><line x1="265.8" y1="262.0" x2="270.2" y2="262.0" stroke="#9c9c9c" stroke-width="1.2"/>
<line x1="289.0" y1="160.0" x2="289.0" y2="192.0" stroke="#9c9c9c" stroke-width="1.2"/><line x1="286.8" y1="160.0" x2="291.2" y2="160.0" stroke="#9c9c9c" stroke-width="1.2"/><line x1="286.8" y1="192.0" x2="291.2" y2="192.0" stroke="#9c9c9c" stroke-width="1.2"/>
<line x1="293.5" y1="170.0" x2="293.5" y2="195.0" stroke="#9c9c9c" stroke-width="1.2"/><line x1="291.3" y1="170.0" x2="295.7" y2="170.0" stroke="#9c9c9c" stroke-width="1.2"/><line x1="291.3" y1="195.0" x2="295.7" y2="195.0" stroke="#9c9c9c" stroke-width="1.2"/>
<circle cx="244.0" cy="100.0" r="3.95" fill="#d7d7d7" stroke="#9e9e9e" stroke-width="1.00"/>
<circle cx="252.0" cy="112.0" r="3.95" fill="#d7d7d7" stroke="#9e9e9e" stroke-width="1.00"/>
<circle cx="243.0" cy="125.0" r="3.95" fill="#d7d7d7" stroke="#9e9e9e" stroke-width="1.00"/>
<circle cx="254.0" cy="135.0" r="3.95" fill="#d7d7d7" stroke="#9e9e9e" stroke-width="1.00"/>
<circle cx="245.0" cy="150.0" r="3.95" fill="#d7d7d7" stroke="#9e9e9e" stroke-width="1.00"/>
<circle cx="252.0" cy="160.0" r="3.95" fill="#d7d7d7" stroke="#9e9e9e" stroke-width="1.00"/>
<circle cx="256.0" cy="122.0" r="3.95" fill="#d7d7d7" stroke="#9e9e9e" stroke-width="1.00"/>
<circle cx="250.0" cy="146.0" r="3.95" fill="#d7d7d7" stroke="#9e9e9e" stroke-width="1.00"/>
<circle cx="279.5" cy="126.0" r="4.40" fill="#4bb0a0" stroke="#34887a" stroke-width="1.00"/>
<circle cx="279.0" cy="134.0" r="4.40" fill="#4bb0a0" stroke="#34887a" stroke-width="1.00"/>
<circle cx="280.0" cy="142.0" r="4.40" fill="#4bb0a0" stroke="#34887a" stroke-width="1.00"/>
<circle cx="279.0" cy="150.0" r="4.40" fill="#4bb0a0" stroke="#34887a" stroke-width="1.00"/>
<circle cx="247.9" cy="104.0" r="4.60" fill="#3a92cc" stroke="#1766a8" stroke-width="1.00"/>
<circle cx="251.1" cy="107.4" r="4.60" fill="#3a92cc" stroke="#1766a8" stroke-width="1.00"/>
<circle cx="247.9" cy="110.8" r="4.60" fill="#3a92cc" stroke="#1766a8" stroke-width="1.00"/>
<circle cx="251.1" cy="114.2" r="4.60" fill="#3a92cc" stroke="#1766a8" stroke-width="1.00"/>
<circle cx="247.9" cy="117.6" r="4.60" fill="#3a92cc" stroke="#1766a8" stroke-width="1.00"/>
<circle cx="251.1" cy="121.0" r="4.60" fill="#3a92cc" stroke="#1766a8" stroke-width="1.00"/>
<circle cx="247.9" cy="124.4" r="4.60" fill="#3a92cc" stroke="#1766a8" stroke-width="1.00"/>
<circle cx="251.1" cy="127.8" r="4.60" fill="#3a92cc" stroke="#1766a8" stroke-width="1.00"/>
<circle cx="247.9" cy="131.2" r="4.60" fill="#3a92cc" stroke="#1766a8" stroke-width="1.00"/>
<circle cx="251.1" cy="134.6" r="4.60" fill="#3a92cc" stroke="#1766a8" stroke-width="1.00"/>
<circle cx="247.9" cy="138.0" r="4.60" fill="#3a92cc" stroke="#1766a8" stroke-width="1.00"/>
<circle cx="251.1" cy="141.4" r="4.60" fill="#3a92cc" stroke="#1766a8" stroke-width="1.00"/>
<circle cx="247.9" cy="144.8" r="4.60" fill="#3a92cc" stroke="#1766a8" stroke-width="1.00"/>
<circle cx="251.1" cy="148.2" r="4.60" fill="#3a92cc" stroke="#1766a8" stroke-width="1.00"/>
<circle cx="247.9" cy="151.6" r="4.60" fill="#3a92cc" stroke="#1766a8" stroke-width="1.00"/>
<circle cx="251.1" cy="155.0" r="4.60" fill="#3a92cc" stroke="#1766a8" stroke-width="1.00"/>
<circle cx="247.9" cy="158.4" r="4.60" fill="#3a92cc" stroke="#1766a8" stroke-width="1.00"/>
<circle cx="251.1" cy="161.8" r="4.60" fill="#3a92cc" stroke="#1766a8" stroke-width="1.00"/>
<circle cx="239.8" cy="97.0" r="4.80" fill="#2aace4" stroke="#1a5a80" stroke-width="1.00"/>
<circle cx="241.4" cy="100.4" r="4.80" fill="#2aace4" stroke="#1a5a80" stroke-width="1.00"/>
<circle cx="239.8" cy="103.8" r="4.80" fill="#2aace4" stroke="#1a5a80" stroke-width="1.00"/>
<circle cx="241.4" cy="107.2" r="4.80" fill="#2aace4" stroke="#1a5a80" stroke-width="1.00"/>
<circle cx="239.8" cy="110.6" r="4.80" fill="#2aace4" stroke="#1a5a80" stroke-width="1.00"/>
<circle cx="241.4" cy="114.0" r="4.80" fill="#2aace4" stroke="#1a5a80" stroke-width="1.00"/>
<circle cx="239.8" cy="117.4" r="4.80" fill="#2aace4" stroke="#1a5a80" stroke-width="1.00"/>
<circle cx="241.4" cy="120.8" r="4.80" fill="#2aace4" stroke="#1a5a80" stroke-width="1.00"/>
<circle cx="239.8" cy="124.2" r="4.80" fill="#2aace4" stroke="#1a5a80" stroke-width="1.00"/>
<circle cx="241.4" cy="127.6" r="4.80" fill="#2aace4" stroke="#1a5a80" stroke-width="1.00"/>
<circle cx="239.8" cy="131.0" r="4.80" fill="#2aace4" stroke="#1a5a80" stroke-width="1.00"/>
<circle cx="241.4" cy="134.4" r="4.80" fill="#2aace4" stroke="#1a5a80" stroke-width="1.00"/>
<circle cx="239.8" cy="137.8" r="4.80" fill="#2aace4" stroke="#1a5a80" stroke-width="1.00"/>
<circle cx="246.2" cy="159.0" r="4.60" fill="#2aace4" stroke="#1a5a80" stroke-width="1.00"/>
<circle cx="246.9" cy="163.1" r="4.60" fill="#2aace4" stroke="#1a5a80" stroke-width="1.00"/>
<circle cx="246.9" cy="175.3" r="4.60" fill="#2aace4" stroke="#1a5a80" stroke-width="1.00"/>
<circle cx="248.2" cy="180.6" r="4.60" fill="#2aace4" stroke="#1a5a80" stroke-width="1.00"/>
<circle cx="246.9" cy="184.0" r="4.60" fill="#2aace4" stroke="#1a5a80" stroke-width="1.00"/>
<circle cx="247.5" cy="178.0" r="4.60" fill="#2aace4" stroke="#1a5a80" stroke-width="1.00"/>
<circle cx="246.9" cy="196.8" r="4.60" fill="#2aace4" stroke="#1a5a80" stroke-width="1.00"/>
<circle cx="247.4" cy="23.6" r="4.60" fill="#2aace4" stroke="#1a5a80" stroke-width="1.00"/>
<circle cx="280.8" cy="80.0" r="4.60" fill="#2aace4" stroke="#1a5a80" stroke-width="1.00"/>
<circle cx="283.5" cy="188.5" r="4.60" fill="#2aace4" stroke="#1a5a80" stroke-width="1.00"/>
<circle cx="275.5" cy="136.6" r="4.60" fill="#2aace4" stroke="#1a5a80" stroke-width="1.00"/>
<circle cx="266.4" cy="166.5" r="4.60" fill="#2aace4" stroke="#1a5a80" stroke-width="1.00"/>
<circle cx="464.9" cy="164.6" r="4.60" fill="#2aace4" stroke="#1a5a80" stroke-width="1.00"/>
<circle cx="247.8" cy="96.1" r="3.50" fill="#b0bcc8" stroke="#1f72b8" stroke-width="1.10"/>
<circle cx="249.5" cy="101.8" r="3.50" fill="#b0bcc8" stroke="#1f72b8" stroke-width="1.10"/>
<circle cx="253.0" cy="153.7" r="3.50" fill="#b0bcc8" stroke="#1f72b8" stroke-width="1.10"/>
<circle cx="244.5" cy="150.0" r="3.50" fill="#b0bcc8" stroke="#1f72b8" stroke-width="1.10"/>
<circle cx="251.0" cy="140.0" r="3.50" fill="#b0bcc8" stroke="#1f72b8" stroke-width="1.10"/>
<circle cx="247.4" cy="75.2" r="3.50" fill="#a8a8a8" stroke="#1f72b8" stroke-width="1.10"/>
<circle cx="287.0" cy="83.0" r="4.70" fill="#4bb0a0" stroke="#34887a" stroke-width="1.00"/>
<circle cx="290.0" cy="86.3" r="4.70" fill="#4bb0a0" stroke="#34887a" stroke-width="1.00"/>
<circle cx="287.0" cy="89.6" r="4.70" fill="#4bb0a0" stroke="#34887a" stroke-width="1.00"/>
<circle cx="290.0" cy="92.9" r="4.70" fill="#4bb0a0" stroke="#34887a" stroke-width="1.00"/>
<circle cx="287.0" cy="96.2" r="4.70" fill="#4bb0a0" stroke="#34887a" stroke-width="1.00"/>
<circle cx="290.0" cy="99.5" r="4.70" fill="#4bb0a0" stroke="#34887a" stroke-width="1.00"/>
<circle cx="287.0" cy="102.8" r="4.70" fill="#4bb0a0" stroke="#34887a" stroke-width="1.00"/>
<circle cx="290.0" cy="106.1" r="4.70" fill="#4bb0a0" stroke="#34887a" stroke-width="1.00"/>
<circle cx="287.0" cy="109.4" r="4.70" fill="#4bb0a0" stroke="#34887a" stroke-width="1.00"/>
<circle cx="290.0" cy="112.7" r="4.70" fill="#4bb0a0" stroke="#34887a" stroke-width="1.00"/>
<circle cx="287.0" cy="116.0" r="4.70" fill="#4bb0a0" stroke="#34887a" stroke-width="1.00"/>
<circle cx="290.0" cy="119.3" r="4.70" fill="#4bb0a0" stroke="#34887a" stroke-width="1.00"/>
<circle cx="287.0" cy="122.6" r="4.70" fill="#4bb0a0" stroke="#34887a" stroke-width="1.00"/>
<circle cx="301.8" cy="84.0" r="4.60" fill="#4bb0a0" stroke="#34887a" stroke-width="1.00"/>
<circle cx="295.7" cy="94.2" r="4.60" fill="#4bb0a0" stroke="#34887a" stroke-width="1.00"/>
<circle cx="301.8" cy="111.7" r="4.60" fill="#4bb0a0" stroke="#34887a" stroke-width="1.00"/>
<circle cx="296.4" cy="137.3" r="4.60" fill="#4bb0a0" stroke="#34887a" stroke-width="1.00"/>
<circle cx="288.3" cy="139.3" r="4.60" fill="#4bb0a0" stroke="#34887a" stroke-width="1.00"/>
<circle cx="353.0" cy="48.9" r="4.60" fill="#4bb0a0" stroke="#34887a" stroke-width="1.00"/>
<circle cx="288.6" cy="81.2" r="4.60" fill="#4bb0a0" stroke="#34887a" stroke-width="1.00"/>
<circle cx="279.5" cy="173.3" r="4.60" fill="#4bb0a0" stroke="#34887a" stroke-width="1.00"/>
<circle cx="295.7" cy="166.2" r="4.60" fill="#4bb0a0" stroke="#34887a" stroke-width="1.00"/>
<circle cx="267.4" cy="189.5" r="4.60" fill="#4bb0a0" stroke="#34887a" stroke-width="1.00"/>
<circle cx="271.4" cy="188.5" r="4.60" fill="#4bb0a0" stroke="#34887a" stroke-width="1.00"/>
<circle cx="265.4" cy="191.5" r="4.60" fill="#4bb0a0" stroke="#34887a" stroke-width="1.00"/>
<circle cx="271.4" cy="200.6" r="4.60" fill="#4bb0a0" stroke="#34887a" stroke-width="1.00"/>
<circle cx="273.5" cy="207.6" r="4.60" fill="#4bb0a0" stroke="#34887a" stroke-width="1.00"/>
<circle cx="279.5" cy="205.6" r="4.60" fill="#4bb0a0" stroke="#34887a" stroke-width="1.00"/>
<circle cx="270.4" cy="206.6" r="4.60" fill="#4bb0a0" stroke="#34887a" stroke-width="1.00"/>
<circle cx="273.5" cy="211.7" r="4.60" fill="#4bb0a0" stroke="#34887a" stroke-width="1.00"/>
<circle cx="268.0" cy="196.0" r="4.60" fill="#4bb0a0" stroke="#34887a" stroke-width="1.00"/>
<circle cx="276.0" cy="197.0" r="4.60" fill="#4bb0a0" stroke="#34887a" stroke-width="1.00"/>
<circle cx="287.6" cy="62.7" r="3.50" fill="none" stroke="#34887a" stroke-width="1.10"/>
<circle cx="287.6" cy="69.8" r="3.50" fill="none" stroke="#34887a" stroke-width="1.10"/>
<circle cx="292.6" cy="211.7" r="3.50" fill="none" stroke="#34887a" stroke-width="1.10"/>
<circle cx="289.6" cy="194.5" r="3.50" fill="none" stroke="#34887a" stroke-width="1.10"/>
<circle cx="285.8" cy="143.0" r="3.50" fill="none" stroke="#34887a" stroke-width="1.10"/>
<circle cx="290.2" cy="145.6" r="3.50" fill="none" stroke="#34887a" stroke-width="1.10"/>
<circle cx="285.8" cy="148.2" r="3.50" fill="none" stroke="#34887a" stroke-width="1.10"/>
<circle cx="290.2" cy="150.8" r="3.50" fill="none" stroke="#34887a" stroke-width="1.10"/>
<circle cx="285.8" cy="153.4" r="3.50" fill="none" stroke="#34887a" stroke-width="1.10"/>
<circle cx="290.2" cy="156.0" r="3.50" fill="none" stroke="#34887a" stroke-width="1.10"/>
<circle cx="285.8" cy="158.6" r="3.50" fill="none" stroke="#34887a" stroke-width="1.10"/>
<circle cx="290.2" cy="161.2" r="3.50" fill="none" stroke="#34887a" stroke-width="1.10"/>
<circle cx="285.8" cy="163.8" r="3.50" fill="none" stroke="#34887a" stroke-width="1.10"/>
<circle cx="290.2" cy="166.4" r="3.50" fill="none" stroke="#34887a" stroke-width="1.10"/>
<circle cx="285.8" cy="169.0" r="3.50" fill="none" stroke="#34887a" stroke-width="1.10"/>
<circle cx="290.2" cy="171.6" r="3.50" fill="none" stroke="#34887a" stroke-width="1.10"/>
<circle cx="285.8" cy="174.2" r="3.50" fill="none" stroke="#34887a" stroke-width="1.10"/>
<circle cx="290.2" cy="176.8" r="3.50" fill="none" stroke="#34887a" stroke-width="1.10"/>
<circle cx="264.0" cy="116.0" r="4.40" fill="#e8582a" stroke="#c94a20" stroke-width="1.00"/>
<circle cx="268.6" cy="116.0" r="4.40" fill="#e8582a" stroke="#c94a20" stroke-width="1.00"/>
<circle cx="265.0" cy="119.0" r="4.40" fill="#e8582a" stroke="#c94a20" stroke-width="1.00"/>
<circle cx="269.6" cy="119.0" r="4.40" fill="#e8582a" stroke="#c94a20" stroke-width="1.00"/>
<circle cx="264.0" cy="122.0" r="4.40" fill="#e8582a" stroke="#c94a20" stroke-width="1.00"/>
<circle cx="268.6" cy="122.0" r="4.40" fill="#e8582a" stroke="#c94a20" stroke-width="1.00"/>
<circle cx="265.0" cy="125.0" r="4.40" fill="#e8582a" stroke="#c94a20" stroke-width="1.00"/>
<circle cx="269.6" cy="125.0" r="4.40" fill="#e8582a" stroke="#c94a20" stroke-width="1.00"/>
<circle cx="264.0" cy="128.0" r="4.40" fill="#e8582a" stroke="#c94a20" stroke-width="1.00"/>
<circle cx="268.6" cy="128.0" r="4.40" fill="#e8582a" stroke="#c94a20" stroke-width="1.00"/>
<circle cx="265.0" cy="131.0" r="4.40" fill="#e8582a" stroke="#c94a20" stroke-width="1.00"/>
<circle cx="269.6" cy="131.0" r="4.40" fill="#e8582a" stroke="#c94a20" stroke-width="1.00"/>
<circle cx="264.0" cy="134.0" r="4.40" fill="#e8582a" stroke="#c94a20" stroke-width="1.00"/>
<circle cx="268.6" cy="134.0" r="4.40" fill="#e8582a" stroke="#c94a20" stroke-width="1.00"/>
<circle cx="265.0" cy="137.0" r="4.40" fill="#e8582a" stroke="#c94a20" stroke-width="1.00"/>
<circle cx="269.6" cy="137.0" r="4.40" fill="#e8582a" stroke="#c94a20" stroke-width="1.00"/>
<circle cx="264.0" cy="140.0" r="4.40" fill="#e8582a" stroke="#c94a20" stroke-width="1.00"/>
<circle cx="268.6" cy="140.0" r="4.40" fill="#e8582a" stroke="#c94a20" stroke-width="1.00"/>
<circle cx="265.0" cy="143.0" r="4.40" fill="#e8582a" stroke="#c94a20" stroke-width="1.00"/>
<circle cx="269.6" cy="143.0" r="4.40" fill="#e8582a" stroke="#c94a20" stroke-width="1.00"/>
<circle cx="264.0" cy="146.0" r="4.40" fill="#e8582a" stroke="#c94a20" stroke-width="1.00"/>
<circle cx="268.6" cy="146.0" r="4.40" fill="#e8582a" stroke="#c94a20" stroke-width="1.00"/>
<circle cx="265.0" cy="149.0" r="4.40" fill="#e8582a" stroke="#c94a20" stroke-width="1.00"/>
<circle cx="269.6" cy="149.0" r="4.40" fill="#e8582a" stroke="#c94a20" stroke-width="1.00"/>
<circle cx="264.0" cy="152.0" r="4.40" fill="#e8582a" stroke="#c94a20" stroke-width="1.00"/>
<circle cx="268.6" cy="152.0" r="4.40" fill="#e8582a" stroke="#c94a20" stroke-width="1.00"/>
<circle cx="265.0" cy="155.0" r="4.40" fill="#e8582a" stroke="#c94a20" stroke-width="1.00"/>
<circle cx="269.6" cy="155.0" r="4.40" fill="#e8582a" stroke="#c94a20" stroke-width="1.00"/>
<circle cx="264.0" cy="158.0" r="4.40" fill="#e8582a" stroke="#c94a20" stroke-width="1.00"/>
<circle cx="268.6" cy="158.0" r="4.40" fill="#e8582a" stroke="#c94a20" stroke-width="1.00"/>
<circle cx="265.0" cy="161.0" r="4.40" fill="#e8582a" stroke="#c94a20" stroke-width="1.00"/>
<circle cx="269.6" cy="161.0" r="4.40" fill="#e8582a" stroke="#c94a20" stroke-width="1.00"/>
<circle cx="264.0" cy="164.0" r="4.40" fill="#e8582a" stroke="#c94a20" stroke-width="1.00"/>
<circle cx="268.6" cy="164.0" r="4.40" fill="#e8582a" stroke="#c94a20" stroke-width="1.00"/>
<circle cx="276.8" cy="116.4" r="4.60" fill="#e8582a" stroke="#c94a20" stroke-width="1.00"/>
<circle cx="283.6" cy="139.3" r="4.60" fill="#e8582a" stroke="#c94a20" stroke-width="1.00"/>
<circle cx="276.8" cy="144.7" r="4.60" fill="#e8582a" stroke="#c94a20" stroke-width="1.00"/>
<circle cx="284.2" cy="146.0" r="4.60" fill="#e8582a" stroke="#c94a20" stroke-width="1.00"/>
<circle cx="267.1" cy="179.3" r="4.60" fill="#e8582a" stroke="#c94a20" stroke-width="1.00"/>
<circle cx="317.7" cy="91.1" r="4.60" fill="#e8582a" stroke="#c94a20" stroke-width="1.00"/>
<circle cx="270.1" cy="86.1" r="3.60" fill="#9a9a9a" stroke="#e8582a" stroke-width="1.10"/>
<circle cx="264.7" cy="102.2" r="3.60" fill="#9a9a9a" stroke="#e8582a" stroke-width="1.10"/>
<circle cx="260.3" cy="200.6" r="3.60" fill="#9a9a9a" stroke="#e8582a" stroke-width="1.10"/>
<circle cx="260.3" cy="210.7" r="3.60" fill="#9a9a9a" stroke="#e8582a" stroke-width="1.10"/>
<circle cx="263.8" cy="309.2" r="3.60" fill="none" stroke="#e8582a" stroke-width="1.10"/>
<circle cx="262.4" cy="220.1" r="3.30" fill="none" stroke="#e0562a" stroke-width="1.30"/>
<circle cx="266.6" cy="220.1" r="3.30" fill="none" stroke="#e0562a" stroke-width="1.30"/>
<circle cx="263.2" cy="221.9" r="3.30" fill="none" stroke="#e0562a" stroke-width="1.30"/>
<circle cx="265.9" cy="222.8" r="3.30" fill="none" stroke="#e0562a" stroke-width="1.30"/>
<circle cx="262.4" cy="224.5" r="3.30" fill="none" stroke="#e0562a" stroke-width="1.30"/>
<circle cx="267.9" cy="224.8" r="3.30" fill="none" stroke="#e0562a" stroke-width="1.30"/>
<circle cx="263.6" cy="227.2" r="3.30" fill="none" stroke="#e0562a" stroke-width="1.30"/>
<circle cx="267.2" cy="226.8" r="3.30" fill="none" stroke="#e0562a" stroke-width="1.30"/>
<circle cx="263.2" cy="230.0" r="3.30" fill="none" stroke="#e0562a" stroke-width="1.30"/>
<circle cx="266.9" cy="229.9" r="3.30" fill="none" stroke="#e0562a" stroke-width="1.30"/>
<circle cx="263.2" cy="231.5" r="3.30" fill="none" stroke="#e0562a" stroke-width="1.30"/>
<circle cx="267.4" cy="232.1" r="3.30" fill="none" stroke="#e0562a" stroke-width="1.30"/>
<circle cx="262.5" cy="233.8" r="3.30" fill="none" stroke="#e0562a" stroke-width="1.30"/>
<circle cx="267.6" cy="234.4" r="3.30" fill="none" stroke="#e0562a" stroke-width="1.30"/>
<circle cx="263.3" cy="237.3" r="3.30" fill="none" stroke="#e0562a" stroke-width="1.30"/>
<circle cx="267.3" cy="237.3" r="3.30" fill="none" stroke="#e0562a" stroke-width="1.30"/>
<circle cx="262.7" cy="239.6" r="3.30" fill="none" stroke="#e0562a" stroke-width="1.30"/>
<circle cx="266.8" cy="239.7" r="3.30" fill="none" stroke="#e0562a" stroke-width="1.30"/>
<circle cx="263.7" cy="241.1" r="3.30" fill="none" stroke="#e0562a" stroke-width="1.30"/>
<circle cx="266.2" cy="241.3" r="3.30" fill="none" stroke="#e0562a" stroke-width="1.30"/>
<circle cx="263.8" cy="243.9" r="3.30" fill="none" stroke="#e0562a" stroke-width="1.30"/>
<circle cx="267.2" cy="243.8" r="3.30" fill="none" stroke="#e0562a" stroke-width="1.30"/>
<circle cx="262.9" cy="246.3" r="3.30" fill="none" stroke="#e0562a" stroke-width="1.30"/>
<circle cx="266.6" cy="246.5" r="3.30" fill="none" stroke="#e0562a" stroke-width="1.30"/>
<circle cx="263.1" cy="249.3" r="3.30" fill="none" stroke="#e0562a" stroke-width="1.30"/>
<circle cx="267.3" cy="249.3" r="3.30" fill="none" stroke="#e0562a" stroke-width="1.30"/>
<circle cx="263.6" cy="251.8" r="3.30" fill="none" stroke="#e0562a" stroke-width="1.30"/>
<circle cx="267.2" cy="250.8" r="3.30" fill="none" stroke="#e0562a" stroke-width="1.30"/>
<circle cx="263.6" cy="254.2" r="3.30" fill="none" stroke="#e0562a" stroke-width="1.30"/>
<circle cx="267.7" cy="253.7" r="3.30" fill="none" stroke="#e0562a" stroke-width="1.30"/>
<circle cx="263.3" cy="255.7" r="3.30" fill="none" stroke="#e0562a" stroke-width="1.30"/>
<circle cx="267.6" cy="256.1" r="3.30" fill="none" stroke="#e0562a" stroke-width="1.30"/>
<circle cx="262.5" cy="257.9" r="3.30" fill="none" stroke="#e0562a" stroke-width="1.30"/>
<circle cx="267.6" cy="259.0" r="3.30" fill="none" stroke="#e0562a" stroke-width="1.30"/>

<line x1="39" y1="15.7" x2="43" y2="15.7" stroke="#333" stroke-width="1.3"/>
<text x="34.3" y="19.2" font-size="8.90" fill="#555" text-anchor="end" font-weight="normal" font-style="normal" >15</text>
<line x1="39" y1="53.3" x2="43" y2="53.3" stroke="#333" stroke-width="1.3"/>
<text x="34.3" y="56.8" font-size="8.90" fill="#555" text-anchor="end" font-weight="normal" font-style="normal" >10</text>
<line x1="39" y1="90.9" x2="43" y2="90.9" stroke="#333" stroke-width="1.3"/>
<text x="36.1" y="94.4" font-size="8.90" fill="#555" text-anchor="end" font-weight="normal" font-style="normal" >5</text>
<line x1="39" y1="128.5" x2="43" y2="128.5" stroke="#333" stroke-width="1.3"/>
<text x="36.1" y="132.0" font-size="8.90" fill="#555" text-anchor="end" font-weight="normal" font-style="normal" >0</text>
<line x1="39" y1="166.1" x2="43" y2="166.1" stroke="#333" stroke-width="1.3"/>
<text x="34.7" y="169.6" font-size="8.90" fill="#555" text-anchor="end" font-weight="normal" font-style="normal" >-5</text>
<line x1="39" y1="203.7" x2="43" y2="203.7" stroke="#333" stroke-width="1.3"/>
<text x="33.7" y="207.2" font-size="8.90" fill="#555" text-anchor="end" font-weight="normal" font-style="normal" >-10</text>
<line x1="39" y1="241.3" x2="43" y2="241.3" stroke="#333" stroke-width="1.3"/>
<text x="33.7" y="244.8" font-size="8.90" fill="#555" text-anchor="end" font-weight="normal" font-style="normal" >-15</text>
<line x1="39" y1="278.9" x2="43" y2="278.9" stroke="#333" stroke-width="1.3"/>
<text x="33.7" y="282.4" font-size="8.90" fill="#555" text-anchor="end" font-weight="normal" font-style="normal" >-20</text>
<line x1="39" y1="316.5" x2="43" y2="316.5" stroke="#333" stroke-width="1.3"/>
<text x="33.7" y="320.0" font-size="8.90" fill="#555" text-anchor="end" font-weight="normal" font-style="normal" >-25</text>
<line x1="39" y1="354.1" x2="43" y2="354.1" stroke="#333" stroke-width="1.3"/>
<text x="33.7" y="357.6" font-size="8.90" fill="#555" text-anchor="end" font-weight="normal" font-style="normal" >-30</text>
<text transform="translate(7.3,185.3) rotate(-90)" font-size="9.8" fill="#2a2a2a"><tspan textLength="42.3" lengthAdjust="spacingAndGlyphs">zircon εHf</tspan><tspan font-size="6" dy="3.2" dx="0.6">(t)</tspan></text>
<text x="211.7" y="6.4" font-size="10.60" fill="#1a1a1a" text-anchor="start" font-weight="normal" font-style="normal"  textLength="36.2" lengthAdjust="spacingAndGlyphs">1740 Ma</text>
<text transform="translate(486,81) rotate(7.6)" font-size="9.7" font-style="italic" fill="#222" textLength="67.5" lengthAdjust="spacingAndGlyphs">depleted mantle</text>
<text x="542.6" y="122.9" font-size="10.20" fill="#222" text-anchor="start" font-weight="bold" font-style="normal"  textLength="30.8" lengthAdjust="spacingAndGlyphs">CHUR</text>
<text transform="translate(48.6,248.6) rotate(-33.5)" font-size="9.3" fill="#222" textLength="99.0" lengthAdjust="spacingAndGlyphs"><tspan dy="0.0">C-F2 </tspan><tspan font-size="6.0" dy="-3.3">176</tspan><tspan dy="3.3">Lu/</tspan><tspan font-size="6.0" dy="-3.3">177</tspan><tspan dy="3.3">Hf = 0.017</tspan></text>
<text transform="translate(67.5,333.0) rotate(-45.0)" font-size="9.3" fill="#222" textLength="96.0" lengthAdjust="spacingAndGlyphs"><tspan dy="0.0">TTG </tspan><tspan font-size="6.0" dy="-3.3">176</tspan><tspan dy="3.3">Lu/</tspan><tspan font-size="6.0" dy="-3.3">177</tspan><tspan dy="3.3">Hf = 0.005</tspan></text>
<text transform="translate(283.0,302.8) rotate(-30.0)" font-size="9.0" fill="#222" textLength="97.5" lengthAdjust="spacingAndGlyphs"><tspan dy="0.0">C-F2 </tspan><tspan font-size="5.8" dy="-3.2">176</tspan><tspan dy="3.2">Lu/</tspan><tspan font-size="5.8" dy="-3.2">177</tspan><tspan dy="3.2">Hf = 0.017</tspan></text>
<text transform="translate(366.6,339.2) rotate(-43.2)" font-size="9.0" fill="#222" textLength="94.5" lengthAdjust="spacingAndGlyphs"><tspan dy="0.0">TTG </tspan><tspan font-size="5.8" dy="-3.2">176</tspan><tspan dy="3.2">Lu/</tspan><tspan font-size="5.8" dy="-3.2">177</tspan><tspan dy="3.2">Hf = 0.005</tspan></text>
<text transform="translate(429.0,308.2) rotate(-25.5)" font-size="9.0" fill="#222" textLength="105.7" lengthAdjust="spacingAndGlyphs"><tspan dy="0.0">KREEP </tspan><tspan font-size="5.8" dy="-3.2">176</tspan><tspan dy="3.2">Lu/</tspan><tspan font-size="5.8" dy="-3.2">177</tspan><tspan dy="3.2">Hf = 0.02</tspan></text>
<line x1="561.2" y1="274" x2="561.2" y2="341" stroke="#9a9a9a" stroke-width="1.1"/>
<polygon points="561.2,270.2 558,277.5 561.2,276 564.4,277.5" fill="#9a9a9a"/>
<polygon points="561.2,344.8 558,337.5 561.2,339 564.4,337.5" fill="#9a9a9a"/>
<text transform="translate(557.1,325.7) rotate(-90)" font-size="10.5" fill="#333" textLength="35.3" lengthAdjust="spacingAndGlyphs">MIXING</text>
<path d="M579.8,15.0 C579.8,22.5 579.7,48.8 579.8,60.0 C579.9,71.2 579.6,76.5 580.5,82.0 C581.4,87.5 582.6,90.2 585.0,93.0 C587.4,95.8 591.7,97.4 595.0,99.0 C598.3,100.6 602.0,101.1 605.0,102.5 C608.0,103.9 613.6,105.2 613.0,107.3 C612.4,109.4 600.0,112.7 601.3,115.2 C602.6,117.7 622.1,119.9 621.0,122.4 C619.9,124.9 601.2,126.7 594.7,130.3 C588.2,133.9 584.0,140.8 581.8,144.1 C579.6,147.4 580.7,147.9 581.5,150.0 C582.3,152.1 583.3,154.4 586.8,156.8 C590.3,159.2 599.6,162.4 602.6,164.7 C605.6,167.0 602.4,168.6 605.0,170.6 C607.6,172.6 613.4,174.4 618.4,176.5 C623.4,178.6 636.6,181.1 634.8,183.1 C633.0,185.1 615.6,186.4 607.8,188.4 C600.0,190.4 592.4,192.7 588.1,194.9 C583.8,197.1 583.6,198.2 582.2,201.5 C580.8,204.8 580.2,205.2 579.8,215.0 C579.4,224.8 579.8,236.7 579.8,260.0 C579.8,283.3 579.8,339.2 579.8,355.0" fill="none" stroke="#45ad9e" stroke-width="1.4"/>
<path d="M579.8,14.0 C579.8,23.3 579.3,57.8 579.8,70.0 C580.2,82.2 580.0,82.3 582.5,87.0 C585.0,91.7 590.0,94.5 594.7,98.1 C599.4,101.7 607.2,106.2 610.5,108.6 C613.8,111.0 613.5,111.1 614.4,112.6 C615.3,114.1 613.4,116.1 616.0,117.5 C618.6,118.9 625.2,119.8 630.0,120.8 C634.8,121.8 645.4,122.3 644.6,123.5 C643.8,124.7 631.8,126.5 625.0,127.8 C618.2,129.1 608.5,130.4 604.0,131.5 C599.5,132.6 599.0,132.9 598.3,134.2 C597.6,135.4 598.6,137.2 600.0,139.0 C601.4,140.8 605.5,142.8 606.5,145.0 C607.5,147.2 605.1,149.5 606.0,152.0 C606.9,154.5 615.4,156.9 611.8,160.1 C608.2,163.3 586.9,168.0 584.2,171.3 C581.5,174.6 595.8,176.5 595.4,179.8 C595.0,183.1 584.2,187.6 581.6,191.0 C579.0,194.4 580.1,188.5 579.8,200.0 C579.5,211.5 579.8,234.2 579.8,260.0 C579.8,285.8 579.8,339.2 579.8,355.0" fill="none" stroke="#29a8e0" stroke-width="1.4"/>
<path d="M580.0,84.0 C580.1,85.8 579.9,90.9 580.6,95.0 C581.3,99.1 583.2,104.9 584.3,108.6 C585.4,112.3 586.2,114.6 587.4,117.0 C588.6,119.4 589.6,121.1 591.5,123.0 C593.4,124.9 595.1,126.6 598.6,128.6 C602.1,130.6 612.6,132.8 612.4,134.9 C612.2,137.1 601.1,138.9 597.3,141.5 C593.5,144.1 591.7,146.9 589.5,150.3 C587.3,153.7 585.7,158.2 584.2,162.1 C582.7,166.0 581.0,169.5 580.3,173.9 C579.6,178.3 579.9,183.8 580.0,188.4 C580.1,193.0 580.6,197.4 580.9,201.5 C581.1,205.6 580.8,209.7 581.5,213.0 C582.2,216.3 579.9,218.8 585.0,221.5 C590.1,224.2 595.5,226.5 612.0,229.3 C628.5,232.1 684.3,235.3 684.3,238.1 C684.3,240.9 627.8,243.9 612.0,246.0 C596.2,248.1 594.9,248.0 589.8,250.6 C584.7,253.2 583.1,258.0 581.5,261.7 C579.9,265.4 580.2,263.6 580.0,272.8 C579.8,282.0 580.0,309.6 580.0,317.0" fill="none" stroke="#e85a2a" stroke-width="1.4"/>
<rect x="43" y="10.5" width="535.5" height="343.5" fill="none" stroke="#1a1a1a" stroke-width="1.3"/>
<line x1="43" y1="10" x2="43" y2="565.5" stroke="#333" stroke-width="1.6"/>
<text x="615.7" y="110.0" font-size="9.30" fill="#45ad9e" text-anchor="start" font-weight="normal" font-style="normal"  textLength="18.3" lengthAdjust="spacingAndGlyphs">+2.7</text>
<text x="649.2" y="126.9" font-size="9.30" fill="#29a8e0" text-anchor="start" font-weight="normal" font-style="normal" >+0.68</text>
<text x="614.4" y="139.0" font-size="9.30" fill="#e85a2a" text-anchor="start" font-weight="normal" font-style="normal" >-0.89</text>
<text x="613.8" y="163.0" font-size="9.30" fill="#29a8e0" text-anchor="start" font-weight="normal" font-style="normal"  textLength="15.7" lengthAdjust="spacingAndGlyphs">-4.2</text>
<text x="639.0" y="186.5" font-size="9.30" fill="#45ad9e" text-anchor="start" font-weight="normal" font-style="normal"  textLength="15.5" lengthAdjust="spacingAndGlyphs">-5.4</text>
<text x="661.1" y="232.3" font-size="9.30" fill="#e85a2a" text-anchor="start" font-weight="normal" font-style="normal"  textLength="22.2" lengthAdjust="spacingAndGlyphs">-15.0</text>
<line x1="590.3" y1="308.9" x2="672.2" y2="308.9" stroke="#29a8e0" stroke-width="1.4"/>
<text x="616.4" y="305.4" font-size="9.00" fill="#333" text-anchor="start" font-weight="normal" font-style="normal"  textLength="29.6" lengthAdjust="spacingAndGlyphs">Cycle 3</text>
<line x1="590.3" y1="330.3" x2="672.2" y2="330.3" stroke="#e85a2a" stroke-width="1.4"/>
<text x="616.4" y="326.8" font-size="9.00" fill="#333" text-anchor="start" font-weight="normal" font-style="normal"  textLength="29.6" lengthAdjust="spacingAndGlyphs">Cycle 2</text>
<line x1="590.3" y1="351.5" x2="672.2" y2="351.5" stroke="#45ad9e" stroke-width="1.4"/>
<text x="616.4" y="348.0" font-size="9.00" fill="#333" text-anchor="start" font-weight="normal" font-style="normal"  textLength="29.6" lengthAdjust="spacingAndGlyphs">Cycle 1</text>
<rect x="43.0" y="354.5" width="41.2" height="12" fill="#eac774"/>
<rect x="84.2" y="354.5" width="123.2" height="12" fill="#e8bc86"/>
<rect x="207.4" y="354.5" width="40.9" height="12" fill="#e08aaa"/>
<rect x="248.3" y="354.5" width="55.1" height="12" fill="#dc86a0"/>
<rect x="303.4" y="354.5" width="42.1" height="12" fill="#d67c96"/>
<rect x="345.5" y="354.5" width="45.9" height="12" fill="#d4708a"/>
<rect x="391.4" y="354.5" width="187.1" height="12" fill="#c8287a"/>
<line x1="84.2" y1="354.5" x2="84.2" y2="366.5" stroke="#333" stroke-width="1"/>
<line x1="207.4" y1="354.5" x2="207.4" y2="366.5" stroke="#333" stroke-width="1"/>
<line x1="248.3" y1="354.5" x2="248.3" y2="366.5" stroke="#333" stroke-width="1"/>
<line x1="303.4" y1="354.5" x2="303.4" y2="366.5" stroke="#333" stroke-width="1"/>
<line x1="345.5" y1="354.5" x2="345.5" y2="366.5" stroke="#333" stroke-width="1"/>
<line x1="391.4" y1="354.5" x2="391.4" y2="366.5" stroke="#333" stroke-width="1"/>
<line x1="43" y1="354.3" x2="578.5" y2="354.3" stroke="#333" stroke-width="1.1"/>
<line x1="43" y1="366.6" x2="578.5" y2="366.6" stroke="#333" stroke-width="1.1"/>
<text x="49.5" y="363.8" font-size="9.60" fill="#fff" text-anchor="start" font-weight="bold" font-style="normal"  textLength="25.5" lengthAdjust="spacingAndGlyphs">Tonian</text>
<text x="112.1" y="363.8" font-size="9.60" fill="#fff" text-anchor="start" font-weight="bold" font-style="normal"  textLength="63.9" lengthAdjust="spacingAndGlyphs">Mesoproterozoic</text>
<text x="208.9" y="363.8" font-size="9.60" fill="#fff" text-anchor="start" font-weight="bold" font-style="normal"  textLength="37.9" lengthAdjust="spacingAndGlyphs">Statherian</text>
<text x="258.5" y="363.8" font-size="9.60" fill="#fff" text-anchor="start" font-weight="bold" font-style="normal"  textLength="34.3" lengthAdjust="spacingAndGlyphs">Orosirian</text>
<text x="306.8" y="363.8" font-size="9.60" fill="#fff" text-anchor="start" font-weight="bold" font-style="normal"  textLength="35.0" lengthAdjust="spacingAndGlyphs">Rhyacian</text>
<text x="352.8" y="363.8" font-size="9.60" fill="#fff" text-anchor="start" font-weight="bold" font-style="normal"  textLength="30.6" lengthAdjust="spacingAndGlyphs">Siderian</text>
<text x="466.7" y="363.8" font-size="9.60" fill="#fff" text-anchor="start" font-weight="bold" font-style="normal"  textLength="31.5" lengthAdjust="spacingAndGlyphs">Archean</text>
<line x1="43" y1="565.2" x2="578.5" y2="565.2" stroke="#222" stroke-width="1.3"/>
<line x1="578.5" y1="366" x2="578.5" y2="565.2" stroke="#222" stroke-width="1.2"/>
<line x1="38.5" y1="565.3" x2="43" y2="565.3" stroke="#333" stroke-width="1.3"/>
<text x="33.7" y="568.6" font-size="9.40" fill="#555" text-anchor="end" font-weight="normal" font-style="normal" >0</text>
<line x1="38.5" y1="535.8" x2="43" y2="535.8" stroke="#333" stroke-width="1.3"/>
<text x="33.7" y="539.1" font-size="9.40" fill="#555" text-anchor="end" font-weight="normal" font-style="normal" >50</text>
<line x1="38.5" y1="506.2" x2="43" y2="506.2" stroke="#333" stroke-width="1.3"/>
<text x="33.7" y="509.5" font-size="9.40" fill="#555" text-anchor="end" font-weight="normal" font-style="normal" >100</text>
<line x1="38.5" y1="476.7" x2="43" y2="476.7" stroke="#333" stroke-width="1.3"/>
<text x="33.7" y="480.0" font-size="9.40" fill="#555" text-anchor="end" font-weight="normal" font-style="normal" >150</text>
<line x1="38.5" y1="447.2" x2="43" y2="447.2" stroke="#333" stroke-width="1.3"/>
<text x="33.7" y="450.5" font-size="9.40" fill="#555" text-anchor="end" font-weight="normal" font-style="normal" >200</text>
<text x="43.3" y="578.1" font-size="9.00" fill="#5a5a5a" text-anchor="middle" font-weight="normal" font-style="normal"  textLength="14.3" lengthAdjust="spacingAndGlyphs">800</text>
<text x="84.2" y="578.1" font-size="9.00" fill="#5a5a5a" text-anchor="middle" font-weight="normal" font-style="normal"  textLength="19.0" lengthAdjust="spacingAndGlyphs">1000</text>
<text x="125.1" y="578.1" font-size="9.00" fill="#5a5a5a" text-anchor="middle" font-weight="normal" font-style="normal"  textLength="19.0" lengthAdjust="spacingAndGlyphs">1200</text>
<text x="166.1" y="578.1" font-size="9.00" fill="#5a5a5a" text-anchor="middle" font-weight="normal" font-style="normal"  textLength="19.0" lengthAdjust="spacingAndGlyphs">1400</text>
<text x="207.0" y="578.1" font-size="9.00" fill="#5a5a5a" text-anchor="middle" font-weight="normal" font-style="normal"  textLength="19.0" lengthAdjust="spacingAndGlyphs">1600</text>
<text x="247.9" y="578.1" font-size="9.00" fill="#5a5a5a" text-anchor="middle" font-weight="normal" font-style="normal"  textLength="19.0" lengthAdjust="spacingAndGlyphs">1800</text>
<text x="288.8" y="578.1" font-size="9.00" fill="#5a5a5a" text-anchor="middle" font-weight="normal" font-style="normal"  textLength="19.0" lengthAdjust="spacingAndGlyphs">2000</text>
<text x="329.7" y="578.1" font-size="9.00" fill="#5a5a5a" text-anchor="middle" font-weight="normal" font-style="normal"  textLength="19.0" lengthAdjust="spacingAndGlyphs">2200</text>
<text x="370.7" y="578.1" font-size="9.00" fill="#5a5a5a" text-anchor="middle" font-weight="normal" font-style="normal"  textLength="19.0" lengthAdjust="spacingAndGlyphs">2400</text>
<text x="411.6" y="578.1" font-size="9.00" fill="#5a5a5a" text-anchor="middle" font-weight="normal" font-style="normal"  textLength="19.0" lengthAdjust="spacingAndGlyphs">2600</text>
<text x="452.5" y="578.1" font-size="9.00" fill="#5a5a5a" text-anchor="middle" font-weight="normal" font-style="normal"  textLength="19.0" lengthAdjust="spacingAndGlyphs">2800</text>
<text x="493.4" y="578.1" font-size="9.00" fill="#5a5a5a" text-anchor="middle" font-weight="normal" font-style="normal"  textLength="19.0" lengthAdjust="spacingAndGlyphs">3000</text>
<text x="534.3" y="578.1" font-size="9.00" fill="#5a5a5a" text-anchor="middle" font-weight="normal" font-style="normal"  textLength="19.0" lengthAdjust="spacingAndGlyphs">3200</text>
<text x="575.3" y="578.1" font-size="9.00" fill="#5a5a5a" text-anchor="middle" font-weight="normal" font-style="normal"  textLength="19.0" lengthAdjust="spacingAndGlyphs">3400</text>
<text x="262.6" y="591.1" font-size="9.50" fill="#333" text-anchor="start" font-weight="normal" font-style="normal"  textLength="66.2" lengthAdjust="spacingAndGlyphs">zircon age (Ma)</text>
<text transform="translate(9.0,525.3) rotate(-90)" font-size="9.5" fill="#333" textLength="59.5" lengthAdjust="spacingAndGlyphs">zircon number</text>
<text x="49.5" y="380.0" font-size="9.30" fill="#222" text-anchor="start" font-weight="normal" font-style="normal"  textLength="33.2" lengthAdjust="spacingAndGlyphs">N = 955</text>
<rect x="53.1" y="564.3" width="10.30" height="0.9" fill="#dadada" stroke="#3a3a3a" stroke-width="0.8"/>
<rect x="63.4" y="548.2" width="10.30" height="17.0" fill="#dadada" stroke="#3a3a3a" stroke-width="0.8"/>
<rect x="73.7" y="556.9" width="10.30" height="8.3" fill="#dadada" stroke="#3a3a3a" stroke-width="0.8"/>
<rect x="84.0" y="558.6" width="10.30" height="6.6" fill="#dadada" stroke="#3a3a3a" stroke-width="0.8"/>
<rect x="94.3" y="556.1" width="10.30" height="9.1" fill="#dadada" stroke="#3a3a3a" stroke-width="0.8"/>
<rect x="104.6" y="561.3" width="10.30" height="3.9" fill="#dadada" stroke="#3a3a3a" stroke-width="0.8"/>
<rect x="114.9" y="553.4" width="10.30" height="11.8" fill="#dadada" stroke="#3a3a3a" stroke-width="0.8"/>
<rect x="125.2" y="552.9" width="10.30" height="12.3" fill="#dadada" stroke="#3a3a3a" stroke-width="0.8"/>
<rect x="135.5" y="556.4" width="10.30" height="8.8" fill="#dadada" stroke="#3a3a3a" stroke-width="0.8"/>
<rect x="145.8" y="560.2" width="10.30" height="5.0" fill="#dadada" stroke="#3a3a3a" stroke-width="0.8"/>
<rect x="156.1" y="555.5" width="10.30" height="9.7" fill="#dadada" stroke="#3a3a3a" stroke-width="0.8"/>
<rect x="166.4" y="560.1" width="10.30" height="5.1" fill="#dadada" stroke="#3a3a3a" stroke-width="0.8"/>
<rect x="176.7" y="560.1" width="10.30" height="5.1" fill="#dadada" stroke="#3a3a3a" stroke-width="0.8"/>
<rect x="187.0" y="516.1" width="10.30" height="49.1" fill="#dadada" stroke="#3a3a3a" stroke-width="0.8"/>
<rect x="197.3" y="554.5" width="10.30" height="10.7" fill="#dadada" stroke="#3a3a3a" stroke-width="0.8"/>
<rect x="207.6" y="562.3" width="10.30" height="2.9" fill="#dadada" stroke="#3a3a3a" stroke-width="0.8"/>
<rect x="217.9" y="561.3" width="10.30" height="3.9" fill="#dadada" stroke="#3a3a3a" stroke-width="0.8"/>
<rect x="228.2" y="562.3" width="10.30" height="2.9" fill="#dadada" stroke="#3a3a3a" stroke-width="0.8"/>
<rect x="238.5" y="524.3" width="10.30" height="40.9" fill="#dadada" stroke="#3a3a3a" stroke-width="0.8"/>
<rect x="248.8" y="539.2" width="10.30" height="26.0" fill="#dadada" stroke="#3a3a3a" stroke-width="0.8"/>
<rect x="259.1" y="443.4" width="10.30" height="121.8" fill="#dadada" stroke="#3a3a3a" stroke-width="0.8"/>
<rect x="269.4" y="550.3" width="10.30" height="14.9" fill="#dadada" stroke="#3a3a3a" stroke-width="0.8"/>
<rect x="279.7" y="513.0" width="10.30" height="52.2" fill="#dadada" stroke="#3a3a3a" stroke-width="0.8"/>
<rect x="290.0" y="549.6" width="10.30" height="15.6" fill="#dadada" stroke="#3a3a3a" stroke-width="0.8"/>
<rect x="300.3" y="550.8" width="10.30" height="14.4" fill="#dadada" stroke="#3a3a3a" stroke-width="0.8"/>
<rect x="310.6" y="549.6" width="10.30" height="15.6" fill="#dadada" stroke="#3a3a3a" stroke-width="0.8"/>
<rect x="320.9" y="553.1" width="10.30" height="12.1" fill="#dadada" stroke="#3a3a3a" stroke-width="0.8"/>
<rect x="331.2" y="559.2" width="10.30" height="6.0" fill="#dadada" stroke="#3a3a3a" stroke-width="0.8"/>
<rect x="341.5" y="563.0" width="10.30" height="2.2" fill="#dadada" stroke="#3a3a3a" stroke-width="0.8"/>
<rect x="351.8" y="564.4" width="10.30" height="0.8" fill="#dadada" stroke="#3a3a3a" stroke-width="0.8"/>
<rect x="362.1" y="564.4" width="10.30" height="0.8" fill="#dadada" stroke="#3a3a3a" stroke-width="0.8"/>
<rect x="372.4" y="564.4" width="10.30" height="0.8" fill="#dadada" stroke="#3a3a3a" stroke-width="0.8"/>
<rect x="382.7" y="563.8" width="10.30" height="1.4" fill="#dadada" stroke="#3a3a3a" stroke-width="0.8"/>
<rect x="393.0" y="561.8" width="10.30" height="3.4" fill="#dadada" stroke="#3a3a3a" stroke-width="0.8"/>
<rect x="403.3" y="558.9" width="10.30" height="6.3" fill="#dadada" stroke="#3a3a3a" stroke-width="0.8"/>
<rect x="413.6" y="554.2" width="10.30" height="11.0" fill="#dadada" stroke="#3a3a3a" stroke-width="0.8"/>
<rect x="423.9" y="555.2" width="10.30" height="10.0" fill="#dadada" stroke="#3a3a3a" stroke-width="0.8"/>
<rect x="434.2" y="561.4" width="10.30" height="3.8" fill="#dadada" stroke="#3a3a3a" stroke-width="0.8"/>
<rect x="444.5" y="563.9" width="10.30" height="1.3" fill="#dadada" stroke="#3a3a3a" stroke-width="0.8"/>
<rect x="454.8" y="559.8" width="10.30" height="5.4" fill="#dadada" stroke="#3a3a3a" stroke-width="0.8"/>
<rect x="465.1" y="563.9" width="10.30" height="1.3" fill="#dadada" stroke="#3a3a3a" stroke-width="0.8"/>
<rect x="475.4" y="563.5" width="10.30" height="1.7" fill="#dadada" stroke="#3a3a3a" stroke-width="0.8"/>
<rect x="485.7" y="563.3" width="10.30" height="1.9" fill="#dadada" stroke="#3a3a3a" stroke-width="0.8"/>
<rect x="496.0" y="564.3" width="10.30" height="0.9" fill="#dadada" stroke="#3a3a3a" stroke-width="0.8"/>
<rect x="506.3" y="562.3" width="10.30" height="2.9" fill="#dadada" stroke="#3a3a3a" stroke-width="0.8"/>
<rect x="516.6" y="564.5" width="10.30" height="0.7" fill="#dadada" stroke="#3a3a3a" stroke-width="0.8"/>
<rect x="557.8" y="563.9" width="10.30" height="1.3" fill="#dadada" stroke="#3a3a3a" stroke-width="0.8"/>
<path d="M43.5,563.9 C46.2,563.2 55.0,560.8 60.0,559.5 C65.0,558.2 69.8,557.0 73.3,556.4 C76.8,555.8 77.6,556.0 81.2,556.1 C84.8,556.2 90.8,556.8 95.0,557.0 C99.2,557.2 101.2,557.9 106.6,557.5 C112.0,557.1 121.8,555.0 127.6,554.8 C133.4,554.6 137.9,555.9 141.6,556.4 C145.3,556.9 146.7,557.2 150.0,557.7 C153.3,558.2 158.5,558.9 161.7,559.1 C164.9,559.3 166.6,559.6 169.0,559.1 C171.4,558.6 173.9,558.3 176.3,556.2 C178.7,554.1 180.9,549.7 183.6,546.7 C186.3,543.7 189.4,538.4 192.3,538.2 C195.2,538.0 198.4,542.5 201.1,545.3 C203.8,548.0 206.0,552.3 208.4,554.7 C210.8,557.1 213.0,558.8 215.7,559.9 C218.4,561.0 221.8,561.5 224.5,561.3 C227.2,561.0 229.6,560.3 231.8,558.4 C234.0,556.5 235.7,553.2 237.6,549.6 C239.5,546.0 241.8,539.9 243.4,536.5 C245.0,533.1 245.3,532.7 247.1,529.1 C248.9,525.5 252.2,521.2 254.2,514.9 C256.2,508.6 257.1,498.9 258.9,491.3 C260.7,483.8 263.0,470.8 264.8,469.6 C266.6,468.4 267.9,475.9 269.5,484.2 C271.1,492.5 272.6,511.1 274.2,519.6 C275.8,528.1 276.5,533.4 278.9,535.0 C281.2,536.6 285.4,528.5 288.3,529.1 C291.2,529.7 294.0,535.4 296.6,538.5 C299.2,541.6 300.2,545.5 303.7,547.9 C307.2,550.2 313.5,551.0 317.8,552.6 C322.1,554.2 324.2,555.6 329.6,557.4 C335.0,559.2 343.5,562.2 350.4,563.4 C357.3,564.6 364.1,564.7 370.9,564.6 C377.7,564.5 384.5,564.0 391.3,563.0 C398.1,562.0 406.7,559.3 411.8,558.3 C416.9,557.3 418.6,557.0 422.0,556.9 C425.4,556.8 428.4,557.0 432.2,557.7 C435.9,558.5 440.4,560.5 444.5,561.4 C448.6,562.3 450.9,562.6 456.8,563.0 C462.7,563.4 469.5,563.4 480.0,563.6 C490.5,563.8 503.7,563.9 520.0,564.0 C536.3,564.1 568.3,564.2 578.0,564.2" fill="none" stroke="#5e5a36" stroke-width="1.2"/>
<rect x="59.8" y="404.6" width="109.8" height="89.1" fill="#fff" stroke="#8a8a8a" stroke-width="0.9"/>
<text x="101.1" y="413.2" font-size="8.90" fill="#333" text-anchor="start" font-weight="normal" font-style="normal"  textLength="29.6" lengthAdjust="spacingAndGlyphs">Cycle 3</text>
<circle cx="65.7" cy="422.7" r="3.90" fill="#2aace4" stroke="#1a5a80" stroke-width="1.20"/>
<text x="72.9" y="424.7" font-size="8.90" fill="#333" text-anchor="start" font-weight="normal" font-style="normal"  textLength="35.0" lengthAdjust="spacingAndGlyphs">this work</text>
<circle cx="126.6" cy="422.4" r="3.80" fill="none" stroke="#2a6a8a" stroke-width="1.30"/>
<text x="133.3" y="425.2" font-size="8.90" fill="#333" text-anchor="start" font-weight="normal" font-style="normal"  textLength="34.4" lengthAdjust="spacingAndGlyphs">literature</text>
<text x="101.6" y="437.7" font-size="8.90" fill="#333" text-anchor="start" font-weight="normal" font-style="normal"  textLength="29.3" lengthAdjust="spacingAndGlyphs">Cycle 2</text>
<circle cx="65.5" cy="446.3" r="4.20" fill="#e8582a" stroke="#e8582a" stroke-width="0.60"/>
<text x="72.6" y="448.8" font-size="8.90" fill="#333" text-anchor="start" font-weight="normal" font-style="normal"  textLength="35.0" lengthAdjust="spacingAndGlyphs">this work</text>
<circle cx="125.9" cy="446.3" r="3.80" fill="none" stroke="#e8582a" stroke-width="1.30"/>
<text x="132.9" y="448.8" font-size="8.90" fill="#333" text-anchor="start" font-weight="normal" font-style="normal"  textLength="34.1" lengthAdjust="spacingAndGlyphs">literature</text>
<text x="99.9" y="460.4" font-size="8.90" fill="#333" text-anchor="start" font-weight="normal" font-style="normal"  textLength="29.3" lengthAdjust="spacingAndGlyphs">Cycle 1</text>
<circle cx="65.5" cy="470.4" r="4.10" fill="#4bb0a0" stroke="#3a9a8a" stroke-width="0.80"/>
<text x="74.6" y="473.3" font-size="8.90" fill="#333" text-anchor="start" font-weight="normal" font-style="normal"  textLength="34.6" lengthAdjust="spacingAndGlyphs">this work</text>
<circle cx="124.9" cy="470.4" r="3.80" fill="none" stroke="#3a9a8a" stroke-width="1.30"/>
<text x="132.0" y="474.3" font-size="8.90" fill="#333" text-anchor="start" font-weight="normal" font-style="normal"  textLength="35.0" lengthAdjust="spacingAndGlyphs">literature</text>
<circle cx="65.5" cy="486.6" r="4.00" fill="#d6d6d6" stroke="#a6a6a6" stroke-width="0.90"/>
<text x="77.1" y="489.9" font-size="8.90" fill="#333" text-anchor="start" font-weight="normal" font-style="normal"  textLength="69.9" lengthAdjust="spacingAndGlyphs">detrital (literature)</text>
<rect x="380.6" y="383.2" width="180.1" height="157.2" fill="#fff"/>
<line x1="442.5" y1="383" x2="442.5" y2="540" stroke="#ccc" stroke-width="0.6"/>
<line x1="449.4" y1="383" x2="449.4" y2="540" stroke="#ccc" stroke-width="0.6"/>
<line x1="457.2" y1="383" x2="457.2" y2="540" stroke="#ccc" stroke-width="0.6"/>
<rect x="393.2" y="385.4" width="3.4" height="3.4" fill="#fff" stroke="#999" stroke-width="0.7"/>
<rect x="400.3" y="387.4" width="3.4" height="3.4" fill="#fff" stroke="#999" stroke-width="0.7"/>
<rect x="389.3" y="391.9" width="3.4" height="3.4" fill="#fff" stroke="#999" stroke-width="0.7"/>
<rect x="400.3" y="394.2" width="3.4" height="3.4" fill="#fff" stroke="#999" stroke-width="0.7"/>
<rect x="403.6" y="395.0" width="3.4" height="3.4" fill="#fff" stroke="#999" stroke-width="0.7"/>
<rect x="394.0" y="399.0" width="3.4" height="3.4" fill="#fff" stroke="#999" stroke-width="0.7"/>
<rect x="394.0" y="404.2" width="3.4" height="3.4" fill="#fff" stroke="#999" stroke-width="0.7"/>
<rect x="393.2" y="423.2" width="3.4" height="3.4" fill="#fff" stroke="#999" stroke-width="0.7"/>
<rect x="393.2" y="429.7" width="3.4" height="3.4" fill="#fff" stroke="#999" stroke-width="0.7"/>
<rect x="422.8" y="400.7" width="3.4" height="3.4" fill="#fff" stroke="#999" stroke-width="0.7"/>
<rect x="423.3" y="403.4" width="3.4" height="3.4" fill="#fff" stroke="#999" stroke-width="0.7"/>
<rect x="420.1" y="403.4" width="3.4" height="3.4" fill="#fff" stroke="#999" stroke-width="0.7"/>
<rect x="417.0" y="403.9" width="3.4" height="3.4" fill="#fff" stroke="#999" stroke-width="0.7"/>
<rect x="416.5" y="407.0" width="3.4" height="3.4" fill="#fff" stroke="#999" stroke-width="0.7"/>
<rect x="417.5" y="409.6" width="3.4" height="3.4" fill="#fff" stroke="#999" stroke-width="0.7"/>
<rect x="415.4" y="410.7" width="3.4" height="3.4" fill="#fff" stroke="#999" stroke-width="0.7"/>
<rect x="418.1" y="413.8" width="3.4" height="3.4" fill="#fff" stroke="#999" stroke-width="0.7"/>
<rect x="418.6" y="417.4" width="3.4" height="3.4" fill="#fff" stroke="#999" stroke-width="0.7"/>
<rect x="421.7" y="417.4" width="3.4" height="3.4" fill="#fff" stroke="#999" stroke-width="0.7"/>
<rect x="420.1" y="421.1" width="3.4" height="3.4" fill="#fff" stroke="#999" stroke-width="0.7"/>
<rect x="420.1" y="423.7" width="3.4" height="3.4" fill="#fff" stroke="#999" stroke-width="0.7"/>
<rect x="417.0" y="426.8" width="3.4" height="3.4" fill="#fff" stroke="#999" stroke-width="0.7"/>
<rect x="427.2" y="414.3" width="3.4" height="3.4" fill="#fff" stroke="#999" stroke-width="0.7"/>
<rect x="427.2" y="418.0" width="3.4" height="3.4" fill="#fff" stroke="#999" stroke-width="0.7"/>
<rect x="427.7" y="421.1" width="3.4" height="3.4" fill="#fff" stroke="#999" stroke-width="0.7"/>
<rect x="425.4" y="426.3" width="3.4" height="3.4" fill="#fff" stroke="#999" stroke-width="0.7"/>
<rect x="426.9" y="427.9" width="3.4" height="3.4" fill="#fff" stroke="#999" stroke-width="0.7"/>
<rect x="424.3" y="431.5" width="3.4" height="3.4" fill="#fff" stroke="#999" stroke-width="0.7"/>
<rect x="417.0" y="432.6" width="3.4" height="3.4" fill="#fff" stroke="#999" stroke-width="0.7"/>
<rect x="417.0" y="437.8" width="3.4" height="3.4" fill="#fff" stroke="#999" stroke-width="0.7"/>
<rect x="425.4" y="437.3" width="3.4" height="3.4" fill="#fff" stroke="#999" stroke-width="0.7"/>
<rect x="433.2" y="436.2" width="3.4" height="3.4" fill="#fff" stroke="#999" stroke-width="0.7"/>
<rect x="385.2" y="438.8" width="3.4" height="3.4" fill="#fff" stroke="#999" stroke-width="0.7"/>
<rect x="382.4" y="442.3" width="3.4" height="3.4" fill="#fff" stroke="#999" stroke-width="0.7"/>
<rect x="385.5" y="439.5" width="3.4" height="3.4" fill="#fff" stroke="#999" stroke-width="0.7"/>
<rect x="393.2" y="446.5" width="3.4" height="3.4" fill="#fff" stroke="#999" stroke-width="0.7"/>
<rect x="417.0" y="434.8" width="3.4" height="3.4" fill="#fff" stroke="#999" stroke-width="0.7"/>
<rect x="417.0" y="439.3" width="3.4" height="3.4" fill="#fff" stroke="#999" stroke-width="0.7"/>
<rect x="417.0" y="442.3" width="3.4" height="3.4" fill="#fff" stroke="#999" stroke-width="0.7"/>
<rect x="414.4" y="445.4" width="3.4" height="3.4" fill="#fff" stroke="#999" stroke-width="0.7"/>
<rect x="420.1" y="448.0" width="3.4" height="3.4" fill="#fff" stroke="#999" stroke-width="0.7"/>
<rect x="420.1" y="453.1" width="3.4" height="3.4" fill="#fff" stroke="#999" stroke-width="0.7"/>
<rect x="423.8" y="449.6" width="3.4" height="3.4" fill="#fff" stroke="#999" stroke-width="0.7"/>
<rect x="423.8" y="452.2" width="3.4" height="3.4" fill="#fff" stroke="#999" stroke-width="0.7"/>
<rect x="423.8" y="455.4" width="3.4" height="3.4" fill="#fff" stroke="#999" stroke-width="0.7"/>
<rect x="426.2" y="440.2" width="3.4" height="3.4" fill="#fff" stroke="#999" stroke-width="0.7"/>
<rect x="394.6" y="461.6" width="3.4" height="3.4" fill="#fff" stroke="#999" stroke-width="0.7"/>
<rect x="394.6" y="465.8" width="3.4" height="3.4" fill="#fff" stroke="#999" stroke-width="0.7"/>
<rect x="423.3" y="479.2" width="3.4" height="3.4" fill="#fff" stroke="#999" stroke-width="0.7"/>
<rect x="424.3" y="430.8" width="3.4" height="3.4" fill="#fff" stroke="#999" stroke-width="0.7"/>
<rect x="414.3" y="402.3" width="3.4" height="3.4" fill="#fff" stroke="#999" stroke-width="0.7"/>
<rect x="418.3" y="405.3" width="3.4" height="3.4" fill="#fff" stroke="#999" stroke-width="0.7"/>
<rect x="421.3" y="408.3" width="3.4" height="3.4" fill="#fff" stroke="#999" stroke-width="0.7"/>
<rect x="415.3" y="414.3" width="3.4" height="3.4" fill="#fff" stroke="#999" stroke-width="0.7"/>
<rect x="419.3" y="416.3" width="3.4" height="3.4" fill="#fff" stroke="#999" stroke-width="0.7"/>
<rect x="422.3" y="419.3" width="3.4" height="3.4" fill="#fff" stroke="#999" stroke-width="0.7"/>
<rect x="417.3" y="422.3" width="3.4" height="3.4" fill="#fff" stroke="#999" stroke-width="0.7"/>
<rect x="421.3" y="424.3" width="3.4" height="3.4" fill="#fff" stroke="#999" stroke-width="0.7"/>
<rect x="415.3" y="429.3" width="3.4" height="3.4" fill="#fff" stroke="#999" stroke-width="0.7"/>
<rect x="419.3" y="431.3" width="3.4" height="3.4" fill="#fff" stroke="#999" stroke-width="0.7"/>
<rect x="423.3" y="434.3" width="3.4" height="3.4" fill="#fff" stroke="#999" stroke-width="0.7"/>
<rect x="439.7" y="394.3" width="3.4" height="3.4" fill="#fff" stroke="#999" stroke-width="0.7"/>
<rect x="447.1" y="402.3" width="3.4" height="3.4" fill="#fff" stroke="#999" stroke-width="0.7"/>
<rect x="435.7" y="405.6" width="3.4" height="3.4" fill="#fff" stroke="#999" stroke-width="0.7"/>
<rect x="437.7" y="413.4" width="3.4" height="3.4" fill="#fff" stroke="#999" stroke-width="0.7"/>
<rect x="433.0" y="436.3" width="3.4" height="3.4" fill="#fff" stroke="#999" stroke-width="0.7"/>
<rect x="437.9" y="448.0" width="3.4" height="3.4" fill="#fff" stroke="#999" stroke-width="0.7"/>
<rect x="439.7" y="453.1" width="3.4" height="3.4" fill="#fff" stroke="#999" stroke-width="0.7"/>
<rect x="445.1" y="474.0" width="3.4" height="3.4" fill="#fff" stroke="#999" stroke-width="0.7"/>
<rect x="445.2" y="520.3" width="3.4" height="3.4" fill="#fff" stroke="#999" stroke-width="0.7"/>
<rect x="445.2" y="524.4" width="3.4" height="3.4" fill="#fff" stroke="#999" stroke-width="0.7"/>
<rect x="461.9" y="421.5" width="3.4" height="3.4" fill="#fff" stroke="#999" stroke-width="0.7"/>
<rect x="463.3" y="429.2" width="3.4" height="3.4" fill="#fff" stroke="#999" stroke-width="0.7"/>
<rect x="468.0" y="424.2" width="3.4" height="3.4" fill="#fff" stroke="#999" stroke-width="0.7"/>
<rect x="468.7" y="427.5" width="3.4" height="3.4" fill="#fff" stroke="#999" stroke-width="0.7"/>
<rect x="512.8" y="399.0" width="3.4" height="3.4" fill="#fff" stroke="#999" stroke-width="0.7"/>
<rect x="512.8" y="401.0" width="3.4" height="3.4" fill="#fff" stroke="#999" stroke-width="0.7"/>
<rect x="512.8" y="403.5" width="3.4" height="3.4" fill="#fff" stroke="#999" stroke-width="0.7"/>
<rect x="512.8" y="408.1" width="3.4" height="3.4" fill="#fff" stroke="#999" stroke-width="0.7"/>
<rect x="519.9" y="402.0" width="3.4" height="3.4" fill="#fff" stroke="#999" stroke-width="0.7"/>
<rect x="477.3" y="417.1" width="3.4" height="3.4" fill="#fff" stroke="#999" stroke-width="0.7"/>
<rect x="477.3" y="421.2" width="3.4" height="3.4" fill="#fff" stroke="#999" stroke-width="0.7"/>
<rect x="462.3" y="421.5" width="3.4" height="3.4" fill="#fff" stroke="#999" stroke-width="0.7"/>
<rect x="468.4" y="423.7" width="3.4" height="3.4" fill="#fff" stroke="#999" stroke-width="0.7"/>
<rect x="471.4" y="425.2" width="3.4" height="3.4" fill="#fff" stroke="#999" stroke-width="0.7"/>
<rect x="469.2" y="427.2" width="3.4" height="3.4" fill="#fff" stroke="#999" stroke-width="0.7"/>
<rect x="463.3" y="429.3" width="3.4" height="3.4" fill="#fff" stroke="#999" stroke-width="0.7"/>
<rect x="484.2" y="429.8" width="3.4" height="3.4" fill="#fff" stroke="#999" stroke-width="0.7"/>
<rect x="484.2" y="431.8" width="3.4" height="3.4" fill="#fff" stroke="#999" stroke-width="0.7"/>
<rect x="499.2" y="420.7" width="3.4" height="3.4" fill="#fff" stroke="#999" stroke-width="0.7"/>
<rect x="506.3" y="416.1" width="3.4" height="3.4" fill="#fff" stroke="#999" stroke-width="0.7"/>
<rect x="512.8" y="418.2" width="3.4" height="3.4" fill="#fff" stroke="#999" stroke-width="0.7"/>
<rect x="519.9" y="417.1" width="3.4" height="3.4" fill="#fff" stroke="#999" stroke-width="0.7"/>
<rect x="512.8" y="431.3" width="3.4" height="3.4" fill="#fff" stroke="#999" stroke-width="0.7"/>
<rect x="518.9" y="433.3" width="3.4" height="3.4" fill="#fff" stroke="#999" stroke-width="0.7"/>
<rect x="471.4" y="433.8" width="3.4" height="3.4" fill="#fff" stroke="#999" stroke-width="0.7"/>
<rect x="468.4" y="434.3" width="3.4" height="3.4" fill="#fff" stroke="#999" stroke-width="0.7"/>
<rect x="464.3" y="437.3" width="3.4" height="3.4" fill="#fff" stroke="#999" stroke-width="0.7"/>
<rect x="467.9" y="437.9" width="3.4" height="3.4" fill="#fff" stroke="#999" stroke-width="0.7"/>
<rect x="469.9" y="440.4" width="3.4" height="3.4" fill="#fff" stroke="#999" stroke-width="0.7"/>
<rect x="463.3" y="440.4" width="3.4" height="3.4" fill="#fff" stroke="#999" stroke-width="0.7"/>
<rect x="505.3" y="437.3" width="3.4" height="3.4" fill="#fff" stroke="#999" stroke-width="0.7"/>
<rect x="512.8" y="440.7" width="3.4" height="3.4" fill="#fff" stroke="#999" stroke-width="0.7"/>
<rect x="484.2" y="441.4" width="3.4" height="3.4" fill="#fff" stroke="#999" stroke-width="0.7"/>
<rect x="519.4" y="440.9" width="3.4" height="3.4" fill="#fff" stroke="#999" stroke-width="0.7"/>
<rect x="521.0" y="402.3" width="3.4" height="3.4" fill="#fff" stroke="#999" stroke-width="0.7"/>
<rect x="526.2" y="414.1" width="3.4" height="3.4" fill="#fff" stroke="#999" stroke-width="0.7"/>
<rect x="521.1" y="417.4" width="3.4" height="3.4" fill="#fff" stroke="#999" stroke-width="0.7"/>
<rect x="526.2" y="424.8" width="3.4" height="3.4" fill="#fff" stroke="#999" stroke-width="0.7"/>
<rect x="526.2" y="427.6" width="3.4" height="3.4" fill="#fff" stroke="#999" stroke-width="0.7"/>
<rect x="526.2" y="430.5" width="3.4" height="3.4" fill="#fff" stroke="#999" stroke-width="0.7"/>
<rect x="533.7" y="418.8" width="3.4" height="3.4" fill="#fff" stroke="#999" stroke-width="0.7"/>
<rect x="533.7" y="421.4" width="3.4" height="3.4" fill="#fff" stroke="#999" stroke-width="0.7"/>
<rect x="533.7" y="424.0" width="3.4" height="3.4" fill="#fff" stroke="#999" stroke-width="0.7"/>
<rect x="533.7" y="426.8" width="3.4" height="3.4" fill="#fff" stroke="#999" stroke-width="0.7"/>
<rect x="548.9" y="417.9" width="3.4" height="3.4" fill="#fff" stroke="#999" stroke-width="0.7"/>
<rect x="548.9" y="420.0" width="3.4" height="3.4" fill="#fff" stroke="#999" stroke-width="0.7"/>
<rect x="548.9" y="422.0" width="3.4" height="3.4" fill="#fff" stroke="#999" stroke-width="0.7"/>
<rect x="548.9" y="424.0" width="3.4" height="3.4" fill="#fff" stroke="#999" stroke-width="0.7"/>
<rect x="520.2" y="433.7" width="3.4" height="3.4" fill="#fff" stroke="#999" stroke-width="0.7"/>
<rect x="521.1" y="436.1" width="3.4" height="3.4" fill="#fff" stroke="#999" stroke-width="0.7"/>
<rect x="526.2" y="439.0" width="3.4" height="3.4" fill="#fff" stroke="#999" stroke-width="0.7"/>
<rect x="513.7" y="430.9" width="3.4" height="3.4" fill="#fff" stroke="#999" stroke-width="0.7"/>
<rect x="463.5" y="437.4" width="3.4" height="3.4" fill="#fff" stroke="#999" stroke-width="0.7"/>
<rect x="463.0" y="440.0" width="3.4" height="3.4" fill="#fff" stroke="#999" stroke-width="0.7"/>
<rect x="467.7" y="438.0" width="3.4" height="3.4" fill="#fff" stroke="#999" stroke-width="0.7"/>
<rect x="468.7" y="440.6" width="3.4" height="3.4" fill="#fff" stroke="#999" stroke-width="0.7"/>
<rect x="470.3" y="442.1" width="3.4" height="3.4" fill="#fff" stroke="#999" stroke-width="0.7"/>
<rect x="484.2" y="442.1" width="3.4" height="3.4" fill="#fff" stroke="#999" stroke-width="0.7"/>
<rect x="501.1" y="444.2" width="3.4" height="3.4" fill="#fff" stroke="#999" stroke-width="0.7"/>
<rect x="503.2" y="448.9" width="3.4" height="3.4" fill="#fff" stroke="#999" stroke-width="0.7"/>
<rect x="504.2" y="450.5" width="3.4" height="3.4" fill="#fff" stroke="#999" stroke-width="0.7"/>
<rect x="501.1" y="451.0" width="3.4" height="3.4" fill="#fff" stroke="#999" stroke-width="0.7"/>
<rect x="504.8" y="437.4" width="3.4" height="3.4" fill="#fff" stroke="#999" stroke-width="0.7"/>
<rect x="513.1" y="441.1" width="3.4" height="3.4" fill="#fff" stroke="#999" stroke-width="0.7"/>
<rect x="513.1" y="445.3" width="3.4" height="3.4" fill="#fff" stroke="#999" stroke-width="0.7"/>
<rect x="518.8" y="442.1" width="3.4" height="3.4" fill="#fff" stroke="#999" stroke-width="0.7"/>
<rect x="460.4" y="453.1" width="3.4" height="3.4" fill="#fff" stroke="#999" stroke-width="0.7"/>
<rect x="461.6" y="456.2" width="3.4" height="3.4" fill="#fff" stroke="#999" stroke-width="0.7"/>
<rect x="490.1" y="457.1" width="3.4" height="3.4" fill="#fff" stroke="#999" stroke-width="0.7"/>
<rect x="505.3" y="460.4" width="3.4" height="3.4" fill="#fff" stroke="#999" stroke-width="0.7"/>
<rect x="515.2" y="457.3" width="3.4" height="3.4" fill="#fff" stroke="#999" stroke-width="0.7"/>
<rect x="515.2" y="465.1" width="3.4" height="3.4" fill="#fff" stroke="#999" stroke-width="0.7"/>
<rect x="464.0" y="461.4" width="3.4" height="3.4" fill="#fff" stroke="#999" stroke-width="0.7"/>
<rect x="463.3" y="465.6" width="3.4" height="3.4" fill="#fff" stroke="#999" stroke-width="0.7"/>
<rect x="463.3" y="470.8" width="3.4" height="3.4" fill="#fff" stroke="#999" stroke-width="0.7"/>
<rect x="471.7" y="472.9" width="3.4" height="3.4" fill="#fff" stroke="#999" stroke-width="0.7"/>
<rect x="463.0" y="476.1" width="3.4" height="3.4" fill="#fff" stroke="#999" stroke-width="0.7"/>
<rect x="462.3" y="479.2" width="3.4" height="3.4" fill="#fff" stroke="#999" stroke-width="0.7"/>
<rect x="465.1" y="483.4" width="3.4" height="3.4" fill="#fff" stroke="#999" stroke-width="0.7"/>
<rect x="513.1" y="478.7" width="3.4" height="3.4" fill="#fff" stroke="#999" stroke-width="0.7"/>
<rect x="464.0" y="493.3" width="3.4" height="3.4" fill="#fff" stroke="#999" stroke-width="0.7"/>
<rect x="471.7" y="491.7" width="3.4" height="3.4" fill="#fff" stroke="#999" stroke-width="0.7"/>
<rect x="461.3" y="455.8" width="3.4" height="3.4" fill="#fff" stroke="#999" stroke-width="0.7"/>
<rect x="464.6" y="461.9" width="3.4" height="3.4" fill="#fff" stroke="#999" stroke-width="0.7"/>
<rect x="464.0" y="493.5" width="3.4" height="3.4" fill="#fff" stroke="#999" stroke-width="0.7"/>
<rect x="471.8" y="491.8" width="3.4" height="3.4" fill="#fff" stroke="#999" stroke-width="0.7"/>
<rect x="462.3" y="529.0" width="3.4" height="3.4" fill="#fff" stroke="#999" stroke-width="0.7"/>
<polyline points="380.6,393.4 410,400 440,406.6 462,411.1 490,416.6 515,421.3 540,425.2 560.7,428.3" fill="none" stroke="#e8289a" stroke-width="1.3"/>
<text transform="translate(467.6,411.6) rotate(8)" font-size="7" fill="#e8289a" font-style="italic" textLength="9.8" lengthAdjust="spacingAndGlyphs">DM</text>
<line x1="380.6" y1="437.1" x2="560.7" y2="437.1" stroke="#111" stroke-width="1.3"/>
<text x="540.9" y="435.8" font-size="6.70" fill="#222" text-anchor="start" font-weight="normal" font-style="normal"  textLength="18.7" lengthAdjust="spacingAndGlyphs">CHUR</text>
<circle cx="441.9" cy="414.0" r="1.75" fill="#f0c8f0" stroke="#666" stroke-width="0.45"/>
<circle cx="444.7" cy="417.0" r="1.75" fill="#f0c8f0" stroke="#666" stroke-width="0.45"/>
<circle cx="441.9" cy="422.0" r="1.75" fill="#f0c8f0" stroke="#666" stroke-width="0.45"/>
<circle cx="444.7" cy="425.0" r="1.75" fill="#f0c8f0" stroke="#666" stroke-width="0.45"/>
<circle cx="441.9" cy="428.0" r="1.75" fill="#f0c8f0" stroke="#666" stroke-width="0.45"/>
<circle cx="444.7" cy="430.0" r="1.75" fill="#f0c8f0" stroke="#666" stroke-width="0.45"/>
<circle cx="441.9" cy="418.0" r="1.75" fill="#ebb4ae" stroke="#666" stroke-width="0.45"/>
<circle cx="444.7" cy="423.0" r="1.75" fill="#ebb4ae" stroke="#666" stroke-width="0.45"/>
<circle cx="441.9" cy="433.0" r="1.75" fill="#ebb4ae" stroke="#666" stroke-width="0.45"/>
<circle cx="444.7" cy="435.0" r="1.75" fill="#ebb4ae" stroke="#666" stroke-width="0.45"/>
<circle cx="441.9" cy="437.0" r="1.75" fill="#ebb4ae" stroke="#666" stroke-width="0.45"/>
<circle cx="444.7" cy="440.0" r="1.75" fill="#ebb4ae" stroke="#666" stroke-width="0.45"/>
<circle cx="441.9" cy="442.0" r="1.75" fill="#ebb4ae" stroke="#666" stroke-width="0.45"/>
<circle cx="444.7" cy="445.0" r="1.75" fill="#ebb4ae" stroke="#666" stroke-width="0.45"/>
<circle cx="441.9" cy="447.0" r="1.75" fill="#ebb4ae" stroke="#666" stroke-width="0.45"/>
<circle cx="444.7" cy="450.0" r="1.75" fill="#ebb4ae" stroke="#666" stroke-width="0.45"/>
<circle cx="441.9" cy="452.0" r="1.75" fill="#ebb4ae" stroke="#666" stroke-width="0.45"/>
<circle cx="444.7" cy="455.5" r="1.75" fill="#e8a06a" stroke="#666" stroke-width="0.45"/>
<circle cx="441.9" cy="458.0" r="1.75" fill="#e8a06a" stroke="#666" stroke-width="0.45"/>
<circle cx="444.7" cy="460.0" r="1.75" fill="#e8a06a" stroke="#666" stroke-width="0.45"/>
<circle cx="441.9" cy="462.0" r="1.75" fill="#e8a06a" stroke="#666" stroke-width="0.45"/>
<circle cx="449.7" cy="414.0" r="1.75" fill="#f0c8f0" stroke="#666" stroke-width="0.45"/>
<circle cx="452.3" cy="419.8" r="1.75" fill="#f0c8f0" stroke="#666" stroke-width="0.45"/>
<circle cx="449.7" cy="425.8" r="1.75" fill="#ebb4ae" stroke="#666" stroke-width="0.45"/>
<circle cx="452.3" cy="428.2" r="1.75" fill="#ebb4ae" stroke="#666" stroke-width="0.45"/>
<circle cx="449.7" cy="430.7" r="1.75" fill="#ebb4ae" stroke="#666" stroke-width="0.45"/>
<circle cx="452.3" cy="433.1" r="1.75" fill="#ebb4ae" stroke="#666" stroke-width="0.45"/>
<circle cx="449.7" cy="435.5" r="1.75" fill="#ebb4ae" stroke="#666" stroke-width="0.45"/>
<circle cx="452.3" cy="438.0" r="1.75" fill="#ebb4ae" stroke="#666" stroke-width="0.45"/>
<circle cx="449.7" cy="440.5" r="1.75" fill="#ebb4ae" stroke="#666" stroke-width="0.45"/>
<circle cx="452.3" cy="443.0" r="1.75" fill="#ebb4ae" stroke="#666" stroke-width="0.45"/>
<circle cx="449.7" cy="445.0" r="1.75" fill="#e8a06a" stroke="#666" stroke-width="0.45"/>
<circle cx="452.3" cy="447.5" r="1.75" fill="#e8a06a" stroke="#666" stroke-width="0.45"/>
<circle cx="449.7" cy="450.0" r="1.75" fill="#e8a06a" stroke="#666" stroke-width="0.45"/>
<circle cx="452.3" cy="452.5" r="1.75" fill="#e8a06a" stroke="#666" stroke-width="0.45"/>
<circle cx="449.7" cy="455.0" r="1.75" fill="#e8a06a" stroke="#666" stroke-width="0.45"/>
<circle cx="452.3" cy="457.5" r="1.75" fill="#e8a06a" stroke="#666" stroke-width="0.45"/>
<circle cx="449.7" cy="460.0" r="1.75" fill="#e8a06a" stroke="#666" stroke-width="0.45"/>
<circle cx="452.3" cy="462.5" r="1.75" fill="#e8a06a" stroke="#666" stroke-width="0.45"/>
<circle cx="449.7" cy="465.0" r="1.75" fill="#e8a06a" stroke="#666" stroke-width="0.45"/>
<circle cx="452.3" cy="463.0" r="1.75" fill="#808040" stroke="#666" stroke-width="0.45"/>
<circle cx="449.7" cy="466.0" r="1.75" fill="#808040" stroke="#666" stroke-width="0.45"/>
<circle cx="452.3" cy="469.0" r="1.75" fill="#808040" stroke="#666" stroke-width="0.45"/>
<circle cx="449.7" cy="472.0" r="1.75" fill="#808040" stroke="#666" stroke-width="0.45"/>
<circle cx="452.3" cy="475.0" r="1.75" fill="#808040" stroke="#666" stroke-width="0.45"/>
<circle cx="449.7" cy="478.0" r="1.75" fill="#808040" stroke="#666" stroke-width="0.45"/>
<circle cx="452.3" cy="481.0" r="1.75" fill="#808040" stroke="#666" stroke-width="0.45"/>
<circle cx="456.7" cy="408.8" r="1.75" fill="#f0c8f0" stroke="#666" stroke-width="0.45"/>
<circle cx="459.3" cy="411.9" r="1.75" fill="#f0c8f0" stroke="#666" stroke-width="0.45"/>
<circle cx="456.7" cy="417.0" r="1.75" fill="#f0c8f0" stroke="#666" stroke-width="0.45"/>
<circle cx="459.3" cy="424.6" r="1.75" fill="#f0c8f0" stroke="#666" stroke-width="0.45"/>
<circle cx="456.7" cy="418.5" r="1.75" fill="#ebb4ae" stroke="#666" stroke-width="0.45"/>
<circle cx="459.3" cy="421.6" r="1.75" fill="#ebb4ae" stroke="#666" stroke-width="0.45"/>
<circle cx="456.7" cy="425.2" r="1.75" fill="#ebb4ae" stroke="#666" stroke-width="0.45"/>
<circle cx="459.3" cy="428.2" r="1.75" fill="#ebb4ae" stroke="#666" stroke-width="0.45"/>
<circle cx="456.7" cy="430.7" r="1.75" fill="#ebb4ae" stroke="#666" stroke-width="0.45"/>
<circle cx="459.3" cy="432.0" r="1.75" fill="#ebb4ae" stroke="#666" stroke-width="0.45"/>
<circle cx="456.7" cy="434.3" r="1.75" fill="#e8a06a" stroke="#666" stroke-width="0.45"/>
<circle cx="459.3" cy="436.1" r="1.75" fill="#e8a06a" stroke="#666" stroke-width="0.45"/>
<circle cx="456.7" cy="438.5" r="1.75" fill="#e8a06a" stroke="#666" stroke-width="0.45"/>
<circle cx="459.3" cy="441.0" r="1.75" fill="#e8a06a" stroke="#666" stroke-width="0.45"/>
<circle cx="456.7" cy="443.5" r="1.75" fill="#e8a06a" stroke="#666" stroke-width="0.45"/>
<circle cx="459.3" cy="446.0" r="1.75" fill="#e8a06a" stroke="#666" stroke-width="0.45"/>
<circle cx="456.7" cy="448.5" r="1.75" fill="#e8a06a" stroke="#666" stroke-width="0.45"/>
<circle cx="459.3" cy="451.0" r="1.75" fill="#e8a06a" stroke="#666" stroke-width="0.45"/>
<circle cx="456.7" cy="453.5" r="1.75" fill="#e8a06a" stroke="#666" stroke-width="0.45"/>
<circle cx="459.3" cy="456.0" r="1.75" fill="#e8a06a" stroke="#666" stroke-width="0.45"/>
<circle cx="456.7" cy="458.5" r="1.75" fill="#e8a06a" stroke="#666" stroke-width="0.45"/>
<circle cx="459.3" cy="461.0" r="1.75" fill="#e8a06a" stroke="#666" stroke-width="0.45"/>
<circle cx="456.7" cy="464.9" r="1.75" fill="#808040" stroke="#666" stroke-width="0.45"/>
<circle cx="459.3" cy="468.3" r="1.75" fill="#808040" stroke="#666" stroke-width="0.45"/>
<circle cx="456.7" cy="471.0" r="1.75" fill="#808040" stroke="#666" stroke-width="0.45"/>
<circle cx="459.3" cy="474.0" r="1.75" fill="#808040" stroke="#666" stroke-width="0.45"/>
<circle cx="456.7" cy="476.4" r="1.75" fill="#808040" stroke="#666" stroke-width="0.45"/>
<circle cx="444.8" cy="486.5" r="1.75" fill="#808040" stroke="#666" stroke-width="0.45"/>
<circle cx="456.9" cy="488.5" r="1.75" fill="#808040" stroke="#666" stroke-width="0.45"/>
<circle cx="450.6" cy="493.2" r="1.75" fill="#3c6a62" stroke="#666" stroke-width="0.45"/>
<circle cx="451.0" cy="496.0" r="1.75" fill="#808040" stroke="#666" stroke-width="0.45"/>
<circle cx="451.0" cy="498.8" r="1.75" fill="#808040" stroke="#666" stroke-width="0.45"/>
<circle cx="451.0" cy="502.0" r="1.75" fill="#3c6a62" stroke="#666" stroke-width="0.45"/>
<circle cx="450.5" cy="504.8" r="1.75" fill="#808040" stroke="#666" stroke-width="0.45"/>
<circle cx="450.6" cy="507.1" r="1.75" fill="#3c6a62" stroke="#666" stroke-width="0.45"/>
<circle cx="450.6" cy="510.8" r="1.75" fill="#3c6a62" stroke="#666" stroke-width="0.45"/>
<circle cx="450.6" cy="514.3" r="1.75" fill="#3c6a62" stroke="#666" stroke-width="0.45"/>
<circle cx="450.6" cy="520.7" r="1.75" fill="#121a60" stroke="#666" stroke-width="0.45"/>
<circle cx="449.6" cy="526.3" r="1.75" fill="#3c6a62" stroke="#666" stroke-width="0.45"/>
<circle cx="458.9" cy="498.5" r="1.75" fill="#3c6a62" stroke="#666" stroke-width="0.45"/>
<circle cx="458.7" cy="510.2" r="1.75" fill="#3a7ac8" stroke="#666" stroke-width="0.45"/>
<circle cx="450.9" cy="482.0" r="1.75" fill="#808040" stroke="#666" stroke-width="0.45"/>
<circle cx="450.5" cy="486.0" r="1.75" fill="#808040" stroke="#666" stroke-width="0.45"/>
<rect x="380.6" y="383.2" width="180.1" height="157.2" fill="none" stroke="#222" stroke-width="1.3"/>
<line x1="380.6" y1="400.6" x2="383" y2="400.6" stroke="#333" stroke-width="0.9"/>
<text x="379.4" y="402.9" font-size="6.40" fill="#666" text-anchor="end" font-weight="normal" font-style="normal" >5</text>
<line x1="380.6" y1="437.1" x2="383" y2="437.1" stroke="#333" stroke-width="0.9"/>
<text x="379.4" y="439.4" font-size="6.40" fill="#666" text-anchor="end" font-weight="normal" font-style="normal" >0</text>
<line x1="380.6" y1="473.6" x2="383" y2="473.6" stroke="#333" stroke-width="0.9"/>
<text x="379.4" y="475.9" font-size="6.40" fill="#666" text-anchor="end" font-weight="normal" font-style="normal" >-5</text>
<line x1="380.6" y1="510.1" x2="383" y2="510.1" stroke="#333" stroke-width="0.9"/>
<text x="379.4" y="512.4" font-size="6.40" fill="#666" text-anchor="end" font-weight="normal" font-style="normal" >-10</text>
<line x1="380.6" y1="418.9" x2="382" y2="418.9" stroke="#333" stroke-width="0.8"/>
<line x1="380.6" y1="455.4" x2="382" y2="455.4" stroke="#333" stroke-width="0.8"/>
<line x1="380.6" y1="491.9" x2="382" y2="491.9" stroke="#333" stroke-width="0.8"/>
<line x1="380.6" y1="528.4" x2="382" y2="528.4" stroke="#333" stroke-width="0.8"/>
<line x1="387.3" y1="540.4" x2="387.3" y2="538.2" stroke="#333" stroke-width="0.9"/>
<text x="388.8" y="546.5" font-size="6.20" fill="#888" text-anchor="middle" font-weight="normal" font-style="normal"  textLength="13.8" lengthAdjust="spacingAndGlyphs">1000</text>
<line x1="423.6" y1="540.4" x2="423.6" y2="538.2" stroke="#333" stroke-width="0.9"/>
<text x="425.1" y="546.5" font-size="6.20" fill="#888" text-anchor="middle" font-weight="normal" font-style="normal"  textLength="13.8" lengthAdjust="spacingAndGlyphs">1500</text>
<line x1="459.9" y1="540.4" x2="459.9" y2="538.2" stroke="#333" stroke-width="0.9"/>
<text x="461.4" y="546.5" font-size="6.20" fill="#888" text-anchor="middle" font-weight="normal" font-style="normal"  textLength="13.8" lengthAdjust="spacingAndGlyphs">2000</text>
<line x1="496.2" y1="540.4" x2="496.2" y2="538.2" stroke="#333" stroke-width="0.9"/>
<text x="497.7" y="546.5" font-size="6.20" fill="#888" text-anchor="middle" font-weight="normal" font-style="normal"  textLength="13.8" lengthAdjust="spacingAndGlyphs">2500</text>
<line x1="532.5" y1="540.4" x2="532.5" y2="538.2" stroke="#333" stroke-width="0.9"/>
<text x="534.0" y="546.5" font-size="6.20" fill="#888" text-anchor="middle" font-weight="normal" font-style="normal"  textLength="13.8" lengthAdjust="spacingAndGlyphs">3000</text>
<line x1="405.4" y1="540.4" x2="405.4" y2="538.8" stroke="#333" stroke-width="0.8"/>
<line x1="441.8" y1="540.4" x2="441.8" y2="538.8" stroke="#333" stroke-width="0.8"/>
<line x1="478.1" y1="540.4" x2="478.1" y2="538.8" stroke="#333" stroke-width="0.8"/>
<line x1="514.4" y1="540.4" x2="514.4" y2="538.8" stroke="#333" stroke-width="0.8"/>
<line x1="550.6" y1="540.4" x2="550.6" y2="538.8" stroke="#333" stroke-width="0.8"/>
<text transform="translate(368.8,462.2) rotate(-90)" font-size="7.8" font-weight="bold" fill="#222" textLength="13.2" lengthAdjust="spacingAndGlyphs">εNd</text>
<text x="385.8" y="533.7" font-size="8.20" fill="#222" text-anchor="start" font-weight="normal" font-style="normal"  textLength="33.2" lengthAdjust="spacingAndGlyphs">Age (Ma)</text>
<text x="522.9" y="394.6" font-size="9.40" fill="#222" text-anchor="start" font-weight="normal" font-style="normal"  textLength="33.0" lengthAdjust="spacingAndGlyphs">N = 517</text>
<rect x="440.4" y="376.3" width="6.7" height="6.3" fill="#29a8e0" stroke="#777" stroke-width="0.4"/>
<text x="443.8" y="381.5" font-size="5.20" fill="#fff" text-anchor="middle" font-weight="normal" font-style="normal" >C3</text>
<rect x="447.1" y="376.3" width="7.5" height="6.3" fill="#e8642a" stroke="#777" stroke-width="0.4"/>
<text x="450.9" y="381.5" font-size="5.20" fill="#fff" text-anchor="middle" font-weight="normal" font-style="normal" >C2</text>
<rect x="454.6" y="376.3" width="7.3" height="6.3" fill="#3aa898" stroke="#777" stroke-width="0.4"/>
<text x="458.2" y="381.5" font-size="5.20" fill="#fff" text-anchor="middle" font-weight="normal" font-style="normal" >C1</text>
<rect x="521.3" y="448.2" width="39.4" height="88.6" fill="#fff" stroke="#666" stroke-width="0.8"/>
<text x="524.4" y="457.4" font-size="8.00" fill="#222" text-anchor="start" font-weight="normal" font-style="normal"  textLength="33.3" lengthAdjust="spacingAndGlyphs">TDM2 (Ma)</text>
<rect x="543.2" y="464.5" width="10.4" height="8.0" fill="#f0c8f0"/>
<line x1="543.2" y1="464.5" x2="553.6" y2="464.5" stroke="#555" stroke-width="0.4"/>
<rect x="543.2" y="472.5" width="10.4" height="8.5" fill="#ebb4ae"/>
<line x1="543.2" y1="472.5" x2="553.6" y2="472.5" stroke="#555" stroke-width="0.4"/>
<rect x="543.2" y="481.0" width="10.4" height="8.3" fill="#e8a06a"/>
<line x1="543.2" y1="481.0" x2="553.6" y2="481.0" stroke="#555" stroke-width="0.4"/>
<rect x="543.2" y="489.3" width="10.4" height="8.4" fill="#b89448"/>
<line x1="543.2" y1="489.3" x2="553.6" y2="489.3" stroke="#555" stroke-width="0.4"/>
<rect x="543.2" y="497.7" width="10.4" height="8.5" fill="#808040"/>
<line x1="543.2" y1="497.7" x2="553.6" y2="497.7" stroke="#555" stroke-width="0.4"/>
<rect x="543.2" y="506.2" width="10.4" height="7.8" fill="#3c6a62"/>
<line x1="543.2" y1="506.2" x2="553.6" y2="506.2" stroke="#555" stroke-width="0.4"/>
<rect x="543.2" y="514.0" width="10.4" height="8.8" fill="#3a7ac8"/>
<line x1="543.2" y1="514.0" x2="553.6" y2="514.0" stroke="#555" stroke-width="0.4"/>
<rect x="543.2" y="522.8" width="10.4" height="8.1" fill="#121a60"/>
<line x1="543.2" y1="522.8" x2="553.6" y2="522.8" stroke="#555" stroke-width="0.4"/>
<rect x="543.2" y="464.5" width="10.4" height="66.4" fill="none" stroke="#444" stroke-width="0.6"/>
<text x="527.6" y="466.1" font-size="6.20" fill="#222" text-anchor="start" font-weight="normal" font-style="normal"  textLength="12.3" lengthAdjust="spacingAndGlyphs">1850</text>
<text x="527.6" y="482.2" font-size="6.20" fill="#222" text-anchor="start" font-weight="normal" font-style="normal"  textLength="12.3" lengthAdjust="spacingAndGlyphs">2250</text>
<text x="527.6" y="498.5" font-size="6.20" fill="#222" text-anchor="start" font-weight="normal" font-style="normal"  textLength="12.3" lengthAdjust="spacingAndGlyphs">2645</text>
<text x="527.6" y="514.8" font-size="6.20" fill="#222" text-anchor="start" font-weight="normal" font-style="normal"  textLength="12.3" lengthAdjust="spacingAndGlyphs">3045</text>
<text x="527.6" y="532.5" font-size="6.20" fill="#222" text-anchor="start" font-weight="normal" font-style="normal"  textLength="12.3" lengthAdjust="spacingAndGlyphs">3440</text>
<line x1="541.6" y1="464.5" x2="543.2" y2="464.5" stroke="#444" stroke-width="0.5"/>
<line x1="541.6" y1="472.5" x2="543.2" y2="472.5" stroke="#444" stroke-width="0.5"/>
<line x1="541.6" y1="481.0" x2="543.2" y2="481.0" stroke="#444" stroke-width="0.5"/>
<line x1="541.6" y1="489.3" x2="543.2" y2="489.3" stroke="#444" stroke-width="0.5"/>
<line x1="541.6" y1="497.7" x2="543.2" y2="497.7" stroke="#444" stroke-width="0.5"/>
<line x1="541.6" y1="506.2" x2="543.2" y2="506.2" stroke="#444" stroke-width="0.5"/>
<line x1="541.6" y1="514.0" x2="543.2" y2="514.0" stroke="#444" stroke-width="0.5"/>
<line x1="541.6" y1="522.8" x2="543.2" y2="522.8" stroke="#444" stroke-width="0.5"/>
<line x1="541.6" y1="530.9" x2="543.2" y2="530.9" stroke="#444" stroke-width="0.5"/>
</svg></body></html>
